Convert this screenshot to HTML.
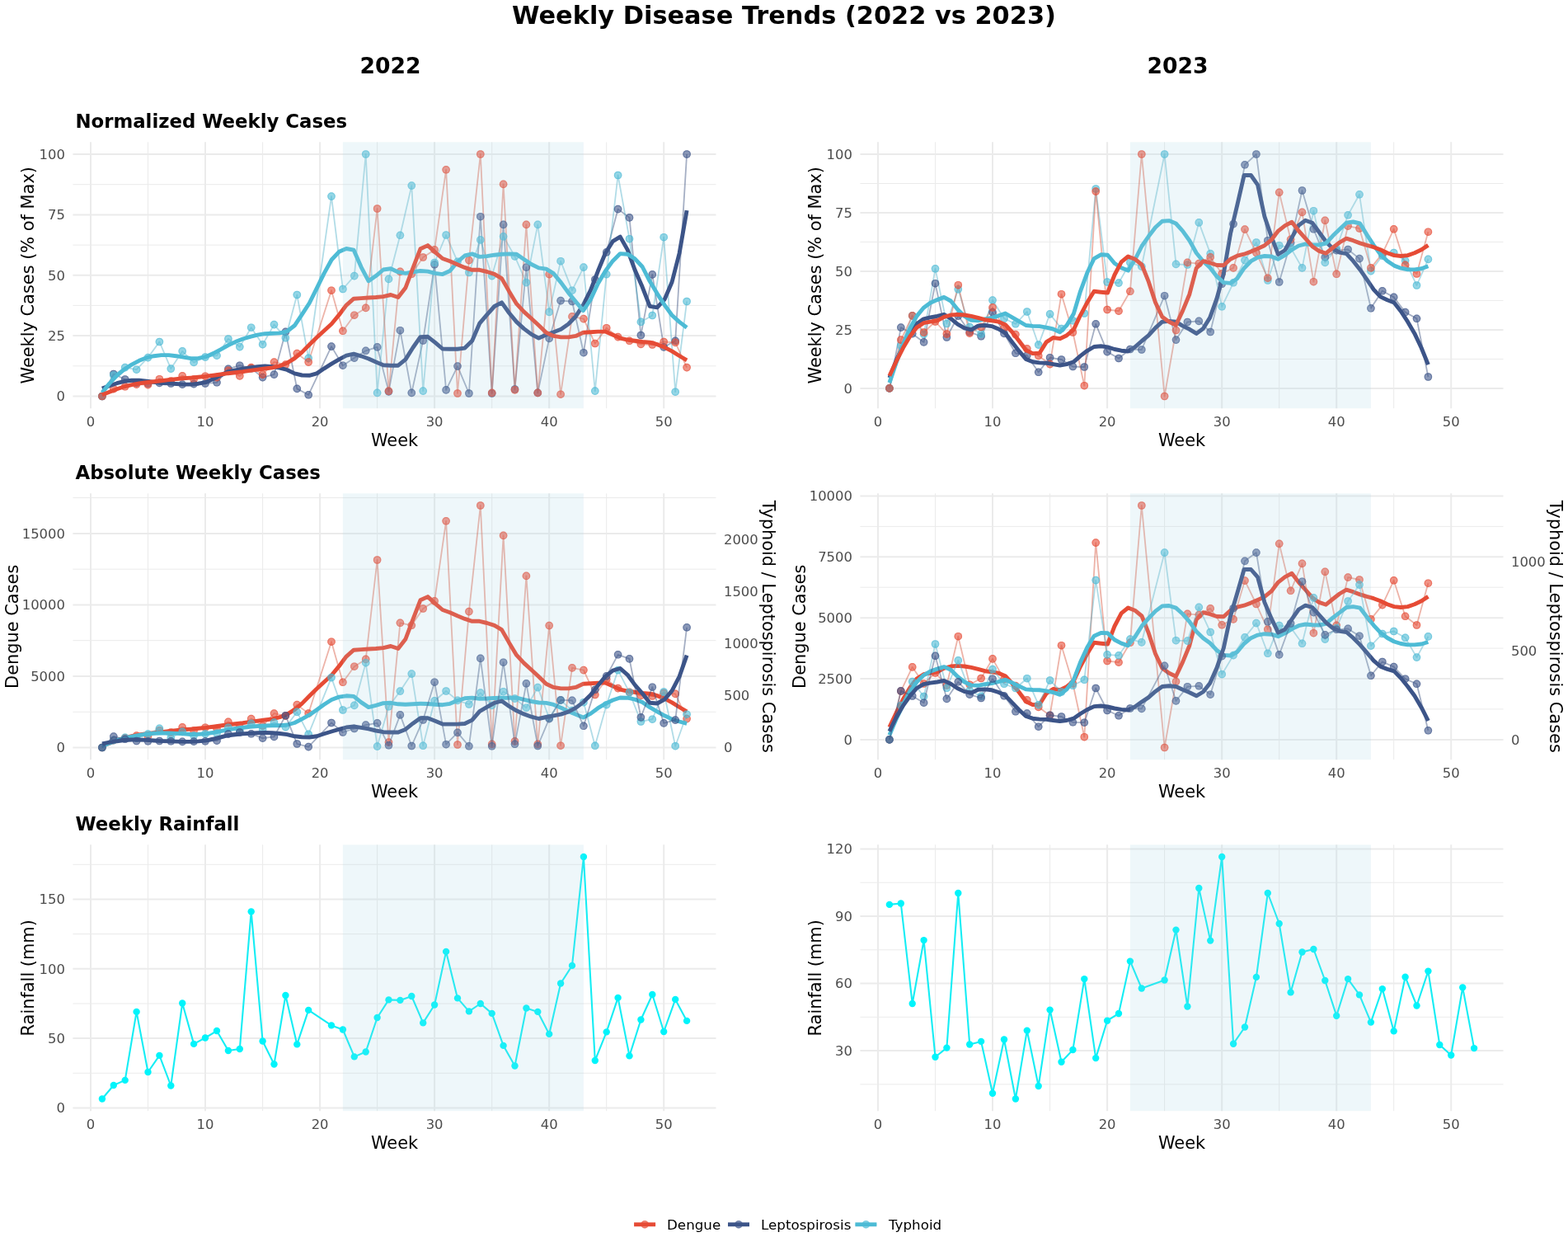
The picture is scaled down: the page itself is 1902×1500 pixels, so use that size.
<!DOCTYPE html>
<html lang="en"><head><meta charset="utf-8"><title>Weekly Disease Trends (2022 vs 2023)</title>
<style>
html,body{margin:0;padding:0;background:#fff;}
body{width:1902px;height:1500px;overflow:hidden;}
svg{display:block;}
text{font-family:"DejaVu Sans","Liberation Sans",sans-serif;fill:#000;}
.tk{font-size:16.4px;fill:#4D4D4D;}
.ax{font-size:20.9px;}
.pt{font-size:22.8px;font-weight:bold;}
.col{font-size:26.6px;font-weight:bold;}
.ttl{font-size:30.4px;font-weight:bold;}
.lg{font-size:16.72px;}
</style></head><body>
<svg width="1902" height="1500" viewBox="0 0 1902 1500">
<rect width="1902" height="1500" fill="#fff"/>
<path d="M88.4 443.8H868.5M88.4 370.4H868.5M88.4 297.1H868.5M88.4 223.7H868.5M179.5 172.3V495.2M318.6 172.3V495.2M457.6 172.3V495.2M596.7 172.3V495.2M735.7 172.3V495.2" stroke="#EBEBEB" stroke-width="1" fill="none"/>
<path d="M88.4 480.5H868.5M88.4 407.1H868.5M88.4 333.8H868.5M88.4 260.4H868.5M88.4 187H868.5M110 172.3V495.2M249 172.3V495.2M388.1 172.3V495.2M527.1 172.3V495.2M666.2 172.3V495.2M805.2 172.3V495.2" stroke="#EBEBEB" stroke-width="2" fill="none"/>
<rect x="415.9" y="172.3" width="292" height="322.9" fill="#ADD8E6" fill-opacity="0.06"/>
<polyline points="123.9,480.5 137.8,453.5 151.7,460 165.6,464.4 179.5,465 193.4,464.4 207.3,465 221.2,466.1 235.1,465.6 249,465 263,463.8 276.9,447.4 290.8,443.2 304.7,446.8 318.6,457.6 332.5,454.1 346.4,402.4 360.3,471.4 374.2,478.8 402,420.1 415.9,443.2 429.8,434.1 443.7,425.3 457.6,420.9 471.5,474.9 485.4,400.7 499.3,476.4 513.2,413 527.1,320.8 541.1,472.9 555,444.1 568.9,477 582.8,262.7 596.7,477 610.6,272.4 624.5,472 638.4,324.1 652.3,476.4 666.2,410.4 680.1,364.6 694,365.5 707.9,427.7 721.8,339 735.7,305.9 749.6,253.6 763.5,263.9 777.4,406.5 791.3,332.9 805.2,420.9 819.2,413.3 833.1,187" fill="none" stroke="#384E7C" stroke-width="1.8" stroke-opacity="0.45" stroke-linejoin="round"/>
<polyline points="123.9,480.5 137.8,455 151.7,445.6 165.6,448.2 179.5,433.6 193.4,414.5 207.3,447.1 221.2,425.9 235.1,439.4 249,433 263,431.2 276.9,411 290.8,420.6 304.7,397.2 318.6,417.7 332.5,393.6 346.4,409.8 360.3,357.5 374.2,434.4 402,238.1 415.9,350.5 429.8,334.6 443.7,187 457.6,476.4 471.5,338.4 485.4,285.3 499.3,225.1 513.2,474.1 527.1,318.5 541.1,285 555,317.3 568.9,330.5 582.8,290.9 596.7,334.6 610.6,286.8 624.5,310.9 638.4,342.6 652.3,272.4 666.2,378.4 680.1,316.7 694,352.2 707.9,324.1 721.8,474.1 735.7,332.6 749.6,212.5 763.5,289.7 777.4,390.4 791.3,382.5 805.2,287.7 819.2,475.2 833.1,365.5" fill="none" stroke="#52B2CA" stroke-width="1.8" stroke-opacity="0.45" stroke-linejoin="round"/>
<polyline points="123.9,480.5 137.8,471.7 151.7,468.8 165.6,466.1 179.5,466.7 193.4,459.7 207.3,462 221.2,455.9 235.1,460 249,456.2 263,457.6 276.9,449.4 290.8,455.9 304.7,445.6 318.6,454.1 332.5,439.1 346.4,442.1 360.3,428.6 374.2,439.1 402,352.2 415.9,401.3 429.8,382.2 443.7,373.4 457.6,253 471.5,474.1 485.4,329.3 499.3,332.3 513.2,312 527.1,302.9 541.1,205.8 555,477 568.9,315.6 582.8,187 596.7,476.4 610.6,223.4 624.5,472.9 638.4,272.4 652.3,476.4 666.2,332.6 680.1,478.2 694,383.9 707.9,386.6 721.8,416.5 735.7,397.7 749.6,408.6 763.5,413.3 777.4,417.4 791.3,418 805.2,414.5 819.2,415.4 833.1,445.6" fill="none" stroke="#D6563F" stroke-width="1.8" stroke-opacity="0.45" stroke-linejoin="round"/>
<g fill="#3C5488" fill-opacity="0.6"><circle cx="123.9" cy="480.5" r="4.8"/><circle cx="137.8" cy="453.5" r="4.8"/><circle cx="151.7" cy="460" r="4.8"/><circle cx="165.6" cy="464.4" r="4.8"/><circle cx="179.5" cy="465" r="4.8"/><circle cx="193.4" cy="464.4" r="4.8"/><circle cx="207.3" cy="465" r="4.8"/><circle cx="221.2" cy="466.1" r="4.8"/><circle cx="235.1" cy="465.6" r="4.8"/><circle cx="249" cy="465" r="4.8"/><circle cx="263" cy="463.8" r="4.8"/><circle cx="276.9" cy="447.4" r="4.8"/><circle cx="290.8" cy="443.2" r="4.8"/><circle cx="304.7" cy="446.8" r="4.8"/><circle cx="318.6" cy="457.6" r="4.8"/><circle cx="332.5" cy="454.1" r="4.8"/><circle cx="346.4" cy="402.4" r="4.8"/><circle cx="360.3" cy="471.4" r="4.8"/><circle cx="374.2" cy="478.8" r="4.8"/><circle cx="402" cy="420.1" r="4.8"/><circle cx="415.9" cy="443.2" r="4.8"/><circle cx="429.8" cy="434.1" r="4.8"/><circle cx="443.7" cy="425.3" r="4.8"/><circle cx="457.6" cy="420.9" r="4.8"/><circle cx="471.5" cy="474.9" r="4.8"/><circle cx="485.4" cy="400.7" r="4.8"/><circle cx="499.3" cy="476.4" r="4.8"/><circle cx="513.2" cy="413" r="4.8"/><circle cx="527.1" cy="320.8" r="4.8"/><circle cx="541.1" cy="472.9" r="4.8"/><circle cx="555" cy="444.1" r="4.8"/><circle cx="568.9" cy="477" r="4.8"/><circle cx="582.8" cy="262.7" r="4.8"/><circle cx="596.7" cy="477" r="4.8"/><circle cx="610.6" cy="272.4" r="4.8"/><circle cx="624.5" cy="472" r="4.8"/><circle cx="638.4" cy="324.1" r="4.8"/><circle cx="652.3" cy="476.4" r="4.8"/><circle cx="666.2" cy="410.4" r="4.8"/><circle cx="680.1" cy="364.6" r="4.8"/><circle cx="694" cy="365.5" r="4.8"/><circle cx="707.9" cy="427.7" r="4.8"/><circle cx="721.8" cy="339" r="4.8"/><circle cx="735.7" cy="305.9" r="4.8"/><circle cx="749.6" cy="253.6" r="4.8"/><circle cx="763.5" cy="263.9" r="4.8"/><circle cx="777.4" cy="406.5" r="4.8"/><circle cx="791.3" cy="332.9" r="4.8"/><circle cx="805.2" cy="420.9" r="4.8"/><circle cx="819.2" cy="413.3" r="4.8"/><circle cx="833.1" cy="187" r="4.8"/></g>
<g fill="none" stroke="#3C5488" stroke-opacity="0.44999999999999996" stroke-width="1.2"><circle cx="123.9" cy="480.5" r="4.2"/><circle cx="137.8" cy="453.5" r="4.2"/><circle cx="151.7" cy="460" r="4.2"/><circle cx="165.6" cy="464.4" r="4.2"/><circle cx="179.5" cy="465" r="4.2"/><circle cx="193.4" cy="464.4" r="4.2"/><circle cx="207.3" cy="465" r="4.2"/><circle cx="221.2" cy="466.1" r="4.2"/><circle cx="235.1" cy="465.6" r="4.2"/><circle cx="249" cy="465" r="4.2"/><circle cx="263" cy="463.8" r="4.2"/><circle cx="276.9" cy="447.4" r="4.2"/><circle cx="290.8" cy="443.2" r="4.2"/><circle cx="304.7" cy="446.8" r="4.2"/><circle cx="318.6" cy="457.6" r="4.2"/><circle cx="332.5" cy="454.1" r="4.2"/><circle cx="346.4" cy="402.4" r="4.2"/><circle cx="360.3" cy="471.4" r="4.2"/><circle cx="374.2" cy="478.8" r="4.2"/><circle cx="402" cy="420.1" r="4.2"/><circle cx="415.9" cy="443.2" r="4.2"/><circle cx="429.8" cy="434.1" r="4.2"/><circle cx="443.7" cy="425.3" r="4.2"/><circle cx="457.6" cy="420.9" r="4.2"/><circle cx="471.5" cy="474.9" r="4.2"/><circle cx="485.4" cy="400.7" r="4.2"/><circle cx="499.3" cy="476.4" r="4.2"/><circle cx="513.2" cy="413" r="4.2"/><circle cx="527.1" cy="320.8" r="4.2"/><circle cx="541.1" cy="472.9" r="4.2"/><circle cx="555" cy="444.1" r="4.2"/><circle cx="568.9" cy="477" r="4.2"/><circle cx="582.8" cy="262.7" r="4.2"/><circle cx="596.7" cy="477" r="4.2"/><circle cx="610.6" cy="272.4" r="4.2"/><circle cx="624.5" cy="472" r="4.2"/><circle cx="638.4" cy="324.1" r="4.2"/><circle cx="652.3" cy="476.4" r="4.2"/><circle cx="666.2" cy="410.4" r="4.2"/><circle cx="680.1" cy="364.6" r="4.2"/><circle cx="694" cy="365.5" r="4.2"/><circle cx="707.9" cy="427.7" r="4.2"/><circle cx="721.8" cy="339" r="4.2"/><circle cx="735.7" cy="305.9" r="4.2"/><circle cx="749.6" cy="253.6" r="4.2"/><circle cx="763.5" cy="263.9" r="4.2"/><circle cx="777.4" cy="406.5" r="4.2"/><circle cx="791.3" cy="332.9" r="4.2"/><circle cx="805.2" cy="420.9" r="4.2"/><circle cx="819.2" cy="413.3" r="4.2"/><circle cx="833.1" cy="187" r="4.2"/></g>
<g fill="#4DBBD5" fill-opacity="0.6"><circle cx="123.9" cy="480.5" r="4.8"/><circle cx="137.8" cy="455" r="4.8"/><circle cx="151.7" cy="445.6" r="4.8"/><circle cx="165.6" cy="448.2" r="4.8"/><circle cx="179.5" cy="433.6" r="4.8"/><circle cx="193.4" cy="414.5" r="4.8"/><circle cx="207.3" cy="447.1" r="4.8"/><circle cx="221.2" cy="425.9" r="4.8"/><circle cx="235.1" cy="439.4" r="4.8"/><circle cx="249" cy="433" r="4.8"/><circle cx="263" cy="431.2" r="4.8"/><circle cx="276.9" cy="411" r="4.8"/><circle cx="290.8" cy="420.6" r="4.8"/><circle cx="304.7" cy="397.2" r="4.8"/><circle cx="318.6" cy="417.7" r="4.8"/><circle cx="332.5" cy="393.6" r="4.8"/><circle cx="346.4" cy="409.8" r="4.8"/><circle cx="360.3" cy="357.5" r="4.8"/><circle cx="374.2" cy="434.4" r="4.8"/><circle cx="402" cy="238.1" r="4.8"/><circle cx="415.9" cy="350.5" r="4.8"/><circle cx="429.8" cy="334.6" r="4.8"/><circle cx="443.7" cy="187" r="4.8"/><circle cx="457.6" cy="476.4" r="4.8"/><circle cx="471.5" cy="338.4" r="4.8"/><circle cx="485.4" cy="285.3" r="4.8"/><circle cx="499.3" cy="225.1" r="4.8"/><circle cx="513.2" cy="474.1" r="4.8"/><circle cx="527.1" cy="318.5" r="4.8"/><circle cx="541.1" cy="285" r="4.8"/><circle cx="555" cy="317.3" r="4.8"/><circle cx="568.9" cy="330.5" r="4.8"/><circle cx="582.8" cy="290.9" r="4.8"/><circle cx="596.7" cy="334.6" r="4.8"/><circle cx="610.6" cy="286.8" r="4.8"/><circle cx="624.5" cy="310.9" r="4.8"/><circle cx="638.4" cy="342.6" r="4.8"/><circle cx="652.3" cy="272.4" r="4.8"/><circle cx="666.2" cy="378.4" r="4.8"/><circle cx="680.1" cy="316.7" r="4.8"/><circle cx="694" cy="352.2" r="4.8"/><circle cx="707.9" cy="324.1" r="4.8"/><circle cx="721.8" cy="474.1" r="4.8"/><circle cx="735.7" cy="332.6" r="4.8"/><circle cx="749.6" cy="212.5" r="4.8"/><circle cx="763.5" cy="289.7" r="4.8"/><circle cx="777.4" cy="390.4" r="4.8"/><circle cx="791.3" cy="382.5" r="4.8"/><circle cx="805.2" cy="287.7" r="4.8"/><circle cx="819.2" cy="475.2" r="4.8"/><circle cx="833.1" cy="365.5" r="4.8"/></g>
<g fill="none" stroke="#4DBBD5" stroke-opacity="0.44999999999999996" stroke-width="1.2"><circle cx="123.9" cy="480.5" r="4.2"/><circle cx="137.8" cy="455" r="4.2"/><circle cx="151.7" cy="445.6" r="4.2"/><circle cx="165.6" cy="448.2" r="4.2"/><circle cx="179.5" cy="433.6" r="4.2"/><circle cx="193.4" cy="414.5" r="4.2"/><circle cx="207.3" cy="447.1" r="4.2"/><circle cx="221.2" cy="425.9" r="4.2"/><circle cx="235.1" cy="439.4" r="4.2"/><circle cx="249" cy="433" r="4.2"/><circle cx="263" cy="431.2" r="4.2"/><circle cx="276.9" cy="411" r="4.2"/><circle cx="290.8" cy="420.6" r="4.2"/><circle cx="304.7" cy="397.2" r="4.2"/><circle cx="318.6" cy="417.7" r="4.2"/><circle cx="332.5" cy="393.6" r="4.2"/><circle cx="346.4" cy="409.8" r="4.2"/><circle cx="360.3" cy="357.5" r="4.2"/><circle cx="374.2" cy="434.4" r="4.2"/><circle cx="402" cy="238.1" r="4.2"/><circle cx="415.9" cy="350.5" r="4.2"/><circle cx="429.8" cy="334.6" r="4.2"/><circle cx="443.7" cy="187" r="4.2"/><circle cx="457.6" cy="476.4" r="4.2"/><circle cx="471.5" cy="338.4" r="4.2"/><circle cx="485.4" cy="285.3" r="4.2"/><circle cx="499.3" cy="225.1" r="4.2"/><circle cx="513.2" cy="474.1" r="4.2"/><circle cx="527.1" cy="318.5" r="4.2"/><circle cx="541.1" cy="285" r="4.2"/><circle cx="555" cy="317.3" r="4.2"/><circle cx="568.9" cy="330.5" r="4.2"/><circle cx="582.8" cy="290.9" r="4.2"/><circle cx="596.7" cy="334.6" r="4.2"/><circle cx="610.6" cy="286.8" r="4.2"/><circle cx="624.5" cy="310.9" r="4.2"/><circle cx="638.4" cy="342.6" r="4.2"/><circle cx="652.3" cy="272.4" r="4.2"/><circle cx="666.2" cy="378.4" r="4.2"/><circle cx="680.1" cy="316.7" r="4.2"/><circle cx="694" cy="352.2" r="4.2"/><circle cx="707.9" cy="324.1" r="4.2"/><circle cx="721.8" cy="474.1" r="4.2"/><circle cx="735.7" cy="332.6" r="4.2"/><circle cx="749.6" cy="212.5" r="4.2"/><circle cx="763.5" cy="289.7" r="4.2"/><circle cx="777.4" cy="390.4" r="4.2"/><circle cx="791.3" cy="382.5" r="4.2"/><circle cx="805.2" cy="287.7" r="4.2"/><circle cx="819.2" cy="475.2" r="4.2"/><circle cx="833.1" cy="365.5" r="4.2"/></g>
<g fill="#E64B35" fill-opacity="0.6"><circle cx="123.9" cy="480.5" r="4.8"/><circle cx="137.8" cy="471.7" r="4.8"/><circle cx="151.7" cy="468.8" r="4.8"/><circle cx="165.6" cy="466.1" r="4.8"/><circle cx="179.5" cy="466.7" r="4.8"/><circle cx="193.4" cy="459.7" r="4.8"/><circle cx="207.3" cy="462" r="4.8"/><circle cx="221.2" cy="455.9" r="4.8"/><circle cx="235.1" cy="460" r="4.8"/><circle cx="249" cy="456.2" r="4.8"/><circle cx="263" cy="457.6" r="4.8"/><circle cx="276.9" cy="449.4" r="4.8"/><circle cx="290.8" cy="455.9" r="4.8"/><circle cx="304.7" cy="445.6" r="4.8"/><circle cx="318.6" cy="454.1" r="4.8"/><circle cx="332.5" cy="439.1" r="4.8"/><circle cx="346.4" cy="442.1" r="4.8"/><circle cx="360.3" cy="428.6" r="4.8"/><circle cx="374.2" cy="439.1" r="4.8"/><circle cx="402" cy="352.2" r="4.8"/><circle cx="415.9" cy="401.3" r="4.8"/><circle cx="429.8" cy="382.2" r="4.8"/><circle cx="443.7" cy="373.4" r="4.8"/><circle cx="457.6" cy="253" r="4.8"/><circle cx="471.5" cy="474.1" r="4.8"/><circle cx="485.4" cy="329.3" r="4.8"/><circle cx="499.3" cy="332.3" r="4.8"/><circle cx="513.2" cy="312" r="4.8"/><circle cx="527.1" cy="302.9" r="4.8"/><circle cx="541.1" cy="205.8" r="4.8"/><circle cx="555" cy="477" r="4.8"/><circle cx="568.9" cy="315.6" r="4.8"/><circle cx="582.8" cy="187" r="4.8"/><circle cx="596.7" cy="476.4" r="4.8"/><circle cx="610.6" cy="223.4" r="4.8"/><circle cx="624.5" cy="472.9" r="4.8"/><circle cx="638.4" cy="272.4" r="4.8"/><circle cx="652.3" cy="476.4" r="4.8"/><circle cx="666.2" cy="332.6" r="4.8"/><circle cx="680.1" cy="478.2" r="4.8"/><circle cx="694" cy="383.9" r="4.8"/><circle cx="707.9" cy="386.6" r="4.8"/><circle cx="721.8" cy="416.5" r="4.8"/><circle cx="735.7" cy="397.7" r="4.8"/><circle cx="749.6" cy="408.6" r="4.8"/><circle cx="763.5" cy="413.3" r="4.8"/><circle cx="777.4" cy="417.4" r="4.8"/><circle cx="791.3" cy="418" r="4.8"/><circle cx="805.2" cy="414.5" r="4.8"/><circle cx="819.2" cy="415.4" r="4.8"/><circle cx="833.1" cy="445.6" r="4.8"/></g>
<g fill="none" stroke="#E64B35" stroke-opacity="0.44999999999999996" stroke-width="1.2"><circle cx="123.9" cy="480.5" r="4.2"/><circle cx="137.8" cy="471.7" r="4.2"/><circle cx="151.7" cy="468.8" r="4.2"/><circle cx="165.6" cy="466.1" r="4.2"/><circle cx="179.5" cy="466.7" r="4.2"/><circle cx="193.4" cy="459.7" r="4.2"/><circle cx="207.3" cy="462" r="4.2"/><circle cx="221.2" cy="455.9" r="4.2"/><circle cx="235.1" cy="460" r="4.2"/><circle cx="249" cy="456.2" r="4.2"/><circle cx="263" cy="457.6" r="4.2"/><circle cx="276.9" cy="449.4" r="4.2"/><circle cx="290.8" cy="455.9" r="4.2"/><circle cx="304.7" cy="445.6" r="4.2"/><circle cx="318.6" cy="454.1" r="4.2"/><circle cx="332.5" cy="439.1" r="4.2"/><circle cx="346.4" cy="442.1" r="4.2"/><circle cx="360.3" cy="428.6" r="4.2"/><circle cx="374.2" cy="439.1" r="4.2"/><circle cx="402" cy="352.2" r="4.2"/><circle cx="415.9" cy="401.3" r="4.2"/><circle cx="429.8" cy="382.2" r="4.2"/><circle cx="443.7" cy="373.4" r="4.2"/><circle cx="457.6" cy="253" r="4.2"/><circle cx="471.5" cy="474.1" r="4.2"/><circle cx="485.4" cy="329.3" r="4.2"/><circle cx="499.3" cy="332.3" r="4.2"/><circle cx="513.2" cy="312" r="4.2"/><circle cx="527.1" cy="302.9" r="4.2"/><circle cx="541.1" cy="205.8" r="4.2"/><circle cx="555" cy="477" r="4.2"/><circle cx="568.9" cy="315.6" r="4.2"/><circle cx="582.8" cy="187" r="4.2"/><circle cx="596.7" cy="476.4" r="4.2"/><circle cx="610.6" cy="223.4" r="4.2"/><circle cx="624.5" cy="472.9" r="4.2"/><circle cx="638.4" cy="272.4" r="4.2"/><circle cx="652.3" cy="476.4" r="4.2"/><circle cx="666.2" cy="332.6" r="4.2"/><circle cx="680.1" cy="478.2" r="4.2"/><circle cx="694" cy="383.9" r="4.2"/><circle cx="707.9" cy="386.6" r="4.2"/><circle cx="721.8" cy="416.5" r="4.2"/><circle cx="735.7" cy="397.7" r="4.2"/><circle cx="749.6" cy="408.6" r="4.2"/><circle cx="763.5" cy="413.3" r="4.2"/><circle cx="777.4" cy="417.4" r="4.2"/><circle cx="791.3" cy="418" r="4.2"/><circle cx="805.2" cy="414.5" r="4.2"/><circle cx="819.2" cy="415.4" r="4.2"/><circle cx="833.1" cy="445.6" r="4.2"/></g>
<polyline points="123.9,471.1 132.9,467.7 141.9,464.7 150.8,462.3 159.8,461.3 168.8,461.2 177.8,462.1 186.7,463.4 195.7,464.5 204.7,464.9 213.7,465.5 222.6,466.1 231.6,466.1 240.6,465.2 249.6,463.6 258.6,459.6 267.5,455.3 276.5,450.8 285.5,448.8 294.5,447.1 303.4,445.8 312.4,444.6 321.4,444 330.4,444.6 339.3,446.2 348.3,448.5 357.3,452.9 366.3,455 375.3,455.3 384.2,452.9 393.2,446.8 402.2,441.2 411.2,435.9 420.1,431.2 429.1,429.2 438.1,431.8 447.1,435 456,439.1 465,442.7 474,443.2 483,443.2 491.9,435.9 500.9,421.5 509.9,408.6 518.9,408.3 527.9,415.4 536.8,423 545.8,423.3 554.8,423.3 563.8,422.1 572.7,413.3 581.7,392.2 590.7,381.6 599.7,371.5 608.6,366.8 617.6,379.5 626.6,390.4 635.6,398.6 644.6,405.4 653.5,410.1 662.5,406 671.5,402.7 680.5,399.2 689.4,393 698.4,383.7 707.4,369.9 716.4,351.9 725.3,328.8 734.3,307 743.3,292.7 752.3,287.1 761.2,302.9 770.2,327.6 779.2,348.1 788.2,371.3 797.2,372.8 806.1,363.1 815.1,342 824.1,307 833.1,255.1" fill="none" stroke="#3C5488" stroke-width="4.9" stroke-opacity="1.0" stroke-linejoin="round" stroke-linecap="butt"/>
<polyline points="123.9,476.1 132.9,464.9 141.9,455.4 150.8,447.8 159.8,442.1 168.8,437.3 177.8,433.7 186.7,431.7 195.7,430.6 204.7,430.6 213.7,431.7 222.6,433.2 231.6,434.7 240.6,434.4 249.6,432.7 258.6,428.6 267.5,423.9 276.5,418.8 285.5,414.6 294.5,411 303.4,408.4 312.4,406.2 321.4,404.7 330.4,404.3 339.3,403.9 348.3,401.8 357.3,394.8 366.3,381.3 375.3,367.5 384.2,349.6 393.2,331.4 402.2,315 411.2,305.3 420.1,301.5 429.1,303.2 438.1,323.8 447.1,340.8 456,334.6 465,327 474,325.8 483,329.9 491.9,331.4 500.9,329.9 509.9,328.5 518.9,329.1 527.9,331.4 536.8,332.6 545.8,328.5 554.8,317.6 563.8,310 572.7,307.9 581.7,311.4 590.7,310.6 599.7,309.2 608.6,308.2 617.6,307.9 626.6,308.2 635.6,314.4 644.6,320.5 653.5,324.9 662.5,326.1 671.5,331.7 680.5,342.6 689.4,354.9 698.4,365.7 707.4,376.6 716.4,363.1 725.3,344 734.3,328.8 743.3,316.4 752.3,307.6 761.2,308.2 770.2,313.8 779.2,323.5 788.2,341.1 797.2,356.1 806.1,369.9 815.1,382.2 824.1,390.4 833.1,397.2" fill="none" stroke="#4DBBD5" stroke-width="4.9" stroke-opacity="1.0" stroke-linejoin="round" stroke-linecap="butt"/>
<polyline points="123.9,478.8 132.9,475.2 141.9,471.8 150.8,468.8 159.8,466.6 168.8,464.9 177.8,463.7 186.7,462.7 195.7,461.7 204.7,460.6 213.7,459.6 222.6,458.7 231.6,458.1 240.6,457.3 249.6,456.4 258.6,455.2 267.5,454 276.5,452.7 285.5,451.7 294.5,450.6 303.4,449.3 312.4,448.1 321.4,447 330.4,445.9 339.3,443.7 348.3,440.2 357.3,434.7 366.3,427.1 375.3,418 384.2,409.2 393.2,401 402.2,392.8 411.2,381.9 420.1,370.1 429.1,362.2 438.1,361.6 447.1,361 456,360.5 465,359.6 474,357.5 483,360.5 491.9,349 500.9,325.2 509.9,301.8 518.9,297.6 527.9,305.9 536.8,313.5 545.8,316.7 554.8,320.8 563.8,324.4 572.7,327.3 581.7,327.3 590.7,329.5 599.7,332.3 608.6,337.6 617.6,353.4 626.6,368.4 635.6,378.1 644.6,386.3 653.5,394.5 662.5,403.3 671.5,407.4 680.5,408.9 689.4,408.9 698.4,407.4 707.4,403.3 716.4,402.7 725.3,402.1 734.3,402.1 743.3,406 752.3,410.1 761.2,412.1 770.2,413.3 779.2,414.5 788.2,415.1 797.2,417.7 806.1,421.2 815.1,425.9 824.1,431.5 833.1,436.8" fill="none" stroke="#E64B35" stroke-width="4.9" stroke-opacity="1.0" stroke-linejoin="round" stroke-linecap="butt"/>
<rect x="415.9" y="172.3" width="292" height="322.9" fill="#ADD8E6" fill-opacity="0.15"/>
<text class="tk" text-anchor="end" x="78.9" y="486.4">0</text>
<text class="tk" text-anchor="end" x="78.9" y="413">25</text>
<text class="tk" text-anchor="end" x="78.9" y="339.6">50</text>
<text class="tk" text-anchor="end" x="78.9" y="266.3">75</text>
<text class="tk" text-anchor="end" x="78.9" y="192.9">100</text>
<text class="tk" text-anchor="middle" x="110" y="517.2">0</text>
<text class="tk" text-anchor="middle" x="249" y="517.2">10</text>
<text class="tk" text-anchor="middle" x="388.1" y="517.2">20</text>
<text class="tk" text-anchor="middle" x="527.1" y="517.2">30</text>
<text class="tk" text-anchor="middle" x="666.2" y="517.2">40</text>
<text class="tk" text-anchor="middle" x="805.2" y="517.2">50</text>
<text class="ax" text-anchor="middle" x="478.5" y="541.2">Week</text>
<text class="ax" text-anchor="middle" transform="translate(40.6,333.8) rotate(-90)">Weekly Cases (% of Max)</text>
<path d="M1043.4 435.4H1823.5M1043.4 364.4H1823.5M1043.4 293.4H1823.5M1043.4 222.5H1823.5M1134.5 172.3V495.2M1273.6 172.3V495.2M1412.6 172.3V495.2M1551.7 172.3V495.2M1690.7 172.3V495.2" stroke="#EBEBEB" stroke-width="1" fill="none"/>
<path d="M1043.4 470.9H1823.5M1043.4 399.9H1823.5M1043.4 328.9H1823.5M1043.4 258H1823.5M1043.4 187H1823.5M1065 172.3V495.2M1204 172.3V495.2M1343.1 172.3V495.2M1482.2 172.3V495.2M1621.2 172.3V495.2M1760.2 172.3V495.2" stroke="#EBEBEB" stroke-width="2" fill="none"/>
<rect x="1370.9" y="172.3" width="292" height="322.9" fill="#ADD8E6" fill-opacity="0.06"/>
<polyline points="1078.9,470.9 1092.8,397.1 1106.7,404.7 1120.6,414.9 1134.5,343.7 1148.4,409 1162.3,383.1 1176.2,402.5 1190.1,407.8 1204,378.6 1218,404.4 1231.9,428.3 1245.8,431.1 1259.7,451.3 1273.6,433.7 1287.5,436 1301.4,444.5 1315.3,445 1329.2,392.8 1343.1,426.6 1357,434.5 1370.9,423.5 1384.8,424 1412.6,358.7 1426.5,412.1 1440.4,390.5 1454.3,389.4 1468.2,402.5 1482.2,344.3 1496.1,271.6 1510,199.8 1523.9,187 1537.8,291.7 1551.7,342 1565.6,294.6 1579.5,231 1593.4,277.8 1607.3,311.9 1621.2,303.7 1635.1,302.5 1649,313.6 1662.9,373.8 1676.8,352.8 1690.7,360.4 1704.6,378.6 1718.5,386.3 1732.4,457" fill="none" stroke="#384E7C" stroke-width="1.8" stroke-opacity="0.45" stroke-linejoin="round"/>
<polyline points="1078.9,470.9 1092.8,419.2 1106.7,382.9 1120.6,405.3 1134.5,325.8 1148.4,392.5 1162.3,350.8 1176.2,396.5 1190.1,405 1204,364.1 1218,386.3 1231.9,392.8 1245.8,378 1259.7,418.1 1273.6,380.9 1287.5,398.5 1301.4,388.8 1315.3,380 1329.2,229 1343.1,342 1357,343.1 1370.9,318.4 1384.8,323.2 1412.6,187 1426.5,320.4 1440.4,321 1454.3,269.9 1468.2,307.6 1482.2,371.8 1496.1,342.8 1510,315.6 1523.9,294 1537.8,340 1551.7,297.7 1565.6,300.5 1579.5,324.9 1593.4,255.7 1607.3,318.4 1621.2,301.4 1635.1,260.8 1649,235.8 1662.9,328.6 1676.8,310.2 1690.7,306.5 1704.6,316.1 1718.5,346 1732.4,314.4" fill="none" stroke="#52B2CA" stroke-width="1.8" stroke-opacity="0.45" stroke-linejoin="round"/>
<polyline points="1078.9,470.9 1092.8,412.1 1106.7,382.9 1120.6,403 1134.5,390 1148.4,405 1162.3,345.7 1176.2,404.2 1190.1,396.5 1204,372.9 1218,397.6 1231.9,405.6 1245.8,422.9 1259.7,431.4 1273.6,441.6 1287.5,356.7 1301.4,403 1315.3,467.7 1329.2,232.1 1343.1,375.5 1357,377.2 1370.9,353.3 1384.8,187 1412.6,480.5 1426.5,400.5 1440.4,318.4 1454.3,319.6 1468.2,311.9 1482.2,331.8 1496.1,324.9 1510,278.1 1523.9,306.5 1537.8,337.2 1551.7,233.3 1565.6,290.3 1579.5,257.4 1593.4,341.7 1607.3,267.3 1621.2,332.3 1635.1,274.1 1649,277 1662.9,324.9 1676.8,307.6 1690.7,277.8 1704.6,321.3 1718.5,332 1732.4,281.2" fill="none" stroke="#D6563F" stroke-width="1.8" stroke-opacity="0.45" stroke-linejoin="round"/>
<g fill="#3C5488" fill-opacity="0.6"><circle cx="1078.9" cy="470.9" r="4.8"/><circle cx="1092.8" cy="397.1" r="4.8"/><circle cx="1106.7" cy="404.7" r="4.8"/><circle cx="1120.6" cy="414.9" r="4.8"/><circle cx="1134.5" cy="343.7" r="4.8"/><circle cx="1148.4" cy="409" r="4.8"/><circle cx="1162.3" cy="383.1" r="4.8"/><circle cx="1176.2" cy="402.5" r="4.8"/><circle cx="1190.1" cy="407.8" r="4.8"/><circle cx="1204" cy="378.6" r="4.8"/><circle cx="1218" cy="404.4" r="4.8"/><circle cx="1231.9" cy="428.3" r="4.8"/><circle cx="1245.8" cy="431.1" r="4.8"/><circle cx="1259.7" cy="451.3" r="4.8"/><circle cx="1273.6" cy="433.7" r="4.8"/><circle cx="1287.5" cy="436" r="4.8"/><circle cx="1301.4" cy="444.5" r="4.8"/><circle cx="1315.3" cy="445" r="4.8"/><circle cx="1329.2" cy="392.8" r="4.8"/><circle cx="1343.1" cy="426.6" r="4.8"/><circle cx="1357" cy="434.5" r="4.8"/><circle cx="1370.9" cy="423.5" r="4.8"/><circle cx="1384.8" cy="424" r="4.8"/><circle cx="1412.6" cy="358.7" r="4.8"/><circle cx="1426.5" cy="412.1" r="4.8"/><circle cx="1440.4" cy="390.5" r="4.8"/><circle cx="1454.3" cy="389.4" r="4.8"/><circle cx="1468.2" cy="402.5" r="4.8"/><circle cx="1482.2" cy="344.3" r="4.8"/><circle cx="1496.1" cy="271.6" r="4.8"/><circle cx="1510" cy="199.8" r="4.8"/><circle cx="1523.9" cy="187" r="4.8"/><circle cx="1537.8" cy="291.7" r="4.8"/><circle cx="1551.7" cy="342" r="4.8"/><circle cx="1565.6" cy="294.6" r="4.8"/><circle cx="1579.5" cy="231" r="4.8"/><circle cx="1593.4" cy="277.8" r="4.8"/><circle cx="1607.3" cy="311.9" r="4.8"/><circle cx="1621.2" cy="303.7" r="4.8"/><circle cx="1635.1" cy="302.5" r="4.8"/><circle cx="1649" cy="313.6" r="4.8"/><circle cx="1662.9" cy="373.8" r="4.8"/><circle cx="1676.8" cy="352.8" r="4.8"/><circle cx="1690.7" cy="360.4" r="4.8"/><circle cx="1704.6" cy="378.6" r="4.8"/><circle cx="1718.5" cy="386.3" r="4.8"/><circle cx="1732.4" cy="457" r="4.8"/></g>
<g fill="none" stroke="#3C5488" stroke-opacity="0.44999999999999996" stroke-width="1.2"><circle cx="1078.9" cy="470.9" r="4.2"/><circle cx="1092.8" cy="397.1" r="4.2"/><circle cx="1106.7" cy="404.7" r="4.2"/><circle cx="1120.6" cy="414.9" r="4.2"/><circle cx="1134.5" cy="343.7" r="4.2"/><circle cx="1148.4" cy="409" r="4.2"/><circle cx="1162.3" cy="383.1" r="4.2"/><circle cx="1176.2" cy="402.5" r="4.2"/><circle cx="1190.1" cy="407.8" r="4.2"/><circle cx="1204" cy="378.6" r="4.2"/><circle cx="1218" cy="404.4" r="4.2"/><circle cx="1231.9" cy="428.3" r="4.2"/><circle cx="1245.8" cy="431.1" r="4.2"/><circle cx="1259.7" cy="451.3" r="4.2"/><circle cx="1273.6" cy="433.7" r="4.2"/><circle cx="1287.5" cy="436" r="4.2"/><circle cx="1301.4" cy="444.5" r="4.2"/><circle cx="1315.3" cy="445" r="4.2"/><circle cx="1329.2" cy="392.8" r="4.2"/><circle cx="1343.1" cy="426.6" r="4.2"/><circle cx="1357" cy="434.5" r="4.2"/><circle cx="1370.9" cy="423.5" r="4.2"/><circle cx="1384.8" cy="424" r="4.2"/><circle cx="1412.6" cy="358.7" r="4.2"/><circle cx="1426.5" cy="412.1" r="4.2"/><circle cx="1440.4" cy="390.5" r="4.2"/><circle cx="1454.3" cy="389.4" r="4.2"/><circle cx="1468.2" cy="402.5" r="4.2"/><circle cx="1482.2" cy="344.3" r="4.2"/><circle cx="1496.1" cy="271.6" r="4.2"/><circle cx="1510" cy="199.8" r="4.2"/><circle cx="1523.9" cy="187" r="4.2"/><circle cx="1537.8" cy="291.7" r="4.2"/><circle cx="1551.7" cy="342" r="4.2"/><circle cx="1565.6" cy="294.6" r="4.2"/><circle cx="1579.5" cy="231" r="4.2"/><circle cx="1593.4" cy="277.8" r="4.2"/><circle cx="1607.3" cy="311.9" r="4.2"/><circle cx="1621.2" cy="303.7" r="4.2"/><circle cx="1635.1" cy="302.5" r="4.2"/><circle cx="1649" cy="313.6" r="4.2"/><circle cx="1662.9" cy="373.8" r="4.2"/><circle cx="1676.8" cy="352.8" r="4.2"/><circle cx="1690.7" cy="360.4" r="4.2"/><circle cx="1704.6" cy="378.6" r="4.2"/><circle cx="1718.5" cy="386.3" r="4.2"/><circle cx="1732.4" cy="457" r="4.2"/></g>
<g fill="#4DBBD5" fill-opacity="0.6"><circle cx="1078.9" cy="470.9" r="4.8"/><circle cx="1092.8" cy="419.2" r="4.8"/><circle cx="1106.7" cy="382.9" r="4.8"/><circle cx="1120.6" cy="405.3" r="4.8"/><circle cx="1134.5" cy="325.8" r="4.8"/><circle cx="1148.4" cy="392.5" r="4.8"/><circle cx="1162.3" cy="350.8" r="4.8"/><circle cx="1176.2" cy="396.5" r="4.8"/><circle cx="1190.1" cy="405" r="4.8"/><circle cx="1204" cy="364.1" r="4.8"/><circle cx="1218" cy="386.3" r="4.8"/><circle cx="1231.9" cy="392.8" r="4.8"/><circle cx="1245.8" cy="378" r="4.8"/><circle cx="1259.7" cy="418.1" r="4.8"/><circle cx="1273.6" cy="380.9" r="4.8"/><circle cx="1287.5" cy="398.5" r="4.8"/><circle cx="1301.4" cy="388.8" r="4.8"/><circle cx="1315.3" cy="380" r="4.8"/><circle cx="1329.2" cy="229" r="4.8"/><circle cx="1343.1" cy="342" r="4.8"/><circle cx="1357" cy="343.1" r="4.8"/><circle cx="1370.9" cy="318.4" r="4.8"/><circle cx="1384.8" cy="323.2" r="4.8"/><circle cx="1412.6" cy="187" r="4.8"/><circle cx="1426.5" cy="320.4" r="4.8"/><circle cx="1440.4" cy="321" r="4.8"/><circle cx="1454.3" cy="269.9" r="4.8"/><circle cx="1468.2" cy="307.6" r="4.8"/><circle cx="1482.2" cy="371.8" r="4.8"/><circle cx="1496.1" cy="342.8" r="4.8"/><circle cx="1510" cy="315.6" r="4.8"/><circle cx="1523.9" cy="294" r="4.8"/><circle cx="1537.8" cy="340" r="4.8"/><circle cx="1551.7" cy="297.7" r="4.8"/><circle cx="1565.6" cy="300.5" r="4.8"/><circle cx="1579.5" cy="324.9" r="4.8"/><circle cx="1593.4" cy="255.7" r="4.8"/><circle cx="1607.3" cy="318.4" r="4.8"/><circle cx="1621.2" cy="301.4" r="4.8"/><circle cx="1635.1" cy="260.8" r="4.8"/><circle cx="1649" cy="235.8" r="4.8"/><circle cx="1662.9" cy="328.6" r="4.8"/><circle cx="1676.8" cy="310.2" r="4.8"/><circle cx="1690.7" cy="306.5" r="4.8"/><circle cx="1704.6" cy="316.1" r="4.8"/><circle cx="1718.5" cy="346" r="4.8"/><circle cx="1732.4" cy="314.4" r="4.8"/></g>
<g fill="none" stroke="#4DBBD5" stroke-opacity="0.44999999999999996" stroke-width="1.2"><circle cx="1078.9" cy="470.9" r="4.2"/><circle cx="1092.8" cy="419.2" r="4.2"/><circle cx="1106.7" cy="382.9" r="4.2"/><circle cx="1120.6" cy="405.3" r="4.2"/><circle cx="1134.5" cy="325.8" r="4.2"/><circle cx="1148.4" cy="392.5" r="4.2"/><circle cx="1162.3" cy="350.8" r="4.2"/><circle cx="1176.2" cy="396.5" r="4.2"/><circle cx="1190.1" cy="405" r="4.2"/><circle cx="1204" cy="364.1" r="4.2"/><circle cx="1218" cy="386.3" r="4.2"/><circle cx="1231.9" cy="392.8" r="4.2"/><circle cx="1245.8" cy="378" r="4.2"/><circle cx="1259.7" cy="418.1" r="4.2"/><circle cx="1273.6" cy="380.9" r="4.2"/><circle cx="1287.5" cy="398.5" r="4.2"/><circle cx="1301.4" cy="388.8" r="4.2"/><circle cx="1315.3" cy="380" r="4.2"/><circle cx="1329.2" cy="229" r="4.2"/><circle cx="1343.1" cy="342" r="4.2"/><circle cx="1357" cy="343.1" r="4.2"/><circle cx="1370.9" cy="318.4" r="4.2"/><circle cx="1384.8" cy="323.2" r="4.2"/><circle cx="1412.6" cy="187" r="4.2"/><circle cx="1426.5" cy="320.4" r="4.2"/><circle cx="1440.4" cy="321" r="4.2"/><circle cx="1454.3" cy="269.9" r="4.2"/><circle cx="1468.2" cy="307.6" r="4.2"/><circle cx="1482.2" cy="371.8" r="4.2"/><circle cx="1496.1" cy="342.8" r="4.2"/><circle cx="1510" cy="315.6" r="4.2"/><circle cx="1523.9" cy="294" r="4.2"/><circle cx="1537.8" cy="340" r="4.2"/><circle cx="1551.7" cy="297.7" r="4.2"/><circle cx="1565.6" cy="300.5" r="4.2"/><circle cx="1579.5" cy="324.9" r="4.2"/><circle cx="1593.4" cy="255.7" r="4.2"/><circle cx="1607.3" cy="318.4" r="4.2"/><circle cx="1621.2" cy="301.4" r="4.2"/><circle cx="1635.1" cy="260.8" r="4.2"/><circle cx="1649" cy="235.8" r="4.2"/><circle cx="1662.9" cy="328.6" r="4.2"/><circle cx="1676.8" cy="310.2" r="4.2"/><circle cx="1690.7" cy="306.5" r="4.2"/><circle cx="1704.6" cy="316.1" r="4.2"/><circle cx="1718.5" cy="346" r="4.2"/><circle cx="1732.4" cy="314.4" r="4.2"/></g>
<g fill="#E64B35" fill-opacity="0.6"><circle cx="1078.9" cy="470.9" r="4.8"/><circle cx="1092.8" cy="412.1" r="4.8"/><circle cx="1106.7" cy="382.9" r="4.8"/><circle cx="1120.6" cy="403" r="4.8"/><circle cx="1134.5" cy="390" r="4.8"/><circle cx="1148.4" cy="405" r="4.8"/><circle cx="1162.3" cy="345.7" r="4.8"/><circle cx="1176.2" cy="404.2" r="4.8"/><circle cx="1190.1" cy="396.5" r="4.8"/><circle cx="1204" cy="372.9" r="4.8"/><circle cx="1218" cy="397.6" r="4.8"/><circle cx="1231.9" cy="405.6" r="4.8"/><circle cx="1245.8" cy="422.9" r="4.8"/><circle cx="1259.7" cy="431.4" r="4.8"/><circle cx="1273.6" cy="441.6" r="4.8"/><circle cx="1287.5" cy="356.7" r="4.8"/><circle cx="1301.4" cy="403" r="4.8"/><circle cx="1315.3" cy="467.7" r="4.8"/><circle cx="1329.2" cy="232.1" r="4.8"/><circle cx="1343.1" cy="375.5" r="4.8"/><circle cx="1357" cy="377.2" r="4.8"/><circle cx="1370.9" cy="353.3" r="4.8"/><circle cx="1384.8" cy="187" r="4.8"/><circle cx="1412.6" cy="480.5" r="4.8"/><circle cx="1426.5" cy="400.5" r="4.8"/><circle cx="1440.4" cy="318.4" r="4.8"/><circle cx="1454.3" cy="319.6" r="4.8"/><circle cx="1468.2" cy="311.9" r="4.8"/><circle cx="1482.2" cy="331.8" r="4.8"/><circle cx="1496.1" cy="324.9" r="4.8"/><circle cx="1510" cy="278.1" r="4.8"/><circle cx="1523.9" cy="306.5" r="4.8"/><circle cx="1537.8" cy="337.2" r="4.8"/><circle cx="1551.7" cy="233.3" r="4.8"/><circle cx="1565.6" cy="290.3" r="4.8"/><circle cx="1579.5" cy="257.4" r="4.8"/><circle cx="1593.4" cy="341.7" r="4.8"/><circle cx="1607.3" cy="267.3" r="4.8"/><circle cx="1621.2" cy="332.3" r="4.8"/><circle cx="1635.1" cy="274.1" r="4.8"/><circle cx="1649" cy="277" r="4.8"/><circle cx="1662.9" cy="324.9" r="4.8"/><circle cx="1676.8" cy="307.6" r="4.8"/><circle cx="1690.7" cy="277.8" r="4.8"/><circle cx="1704.6" cy="321.3" r="4.8"/><circle cx="1718.5" cy="332" r="4.8"/><circle cx="1732.4" cy="281.2" r="4.8"/></g>
<g fill="none" stroke="#E64B35" stroke-opacity="0.44999999999999996" stroke-width="1.2"><circle cx="1078.9" cy="470.9" r="4.2"/><circle cx="1092.8" cy="412.1" r="4.2"/><circle cx="1106.7" cy="382.9" r="4.2"/><circle cx="1120.6" cy="403" r="4.2"/><circle cx="1134.5" cy="390" r="4.2"/><circle cx="1148.4" cy="405" r="4.2"/><circle cx="1162.3" cy="345.7" r="4.2"/><circle cx="1176.2" cy="404.2" r="4.2"/><circle cx="1190.1" cy="396.5" r="4.2"/><circle cx="1204" cy="372.9" r="4.2"/><circle cx="1218" cy="397.6" r="4.2"/><circle cx="1231.9" cy="405.6" r="4.2"/><circle cx="1245.8" cy="422.9" r="4.2"/><circle cx="1259.7" cy="431.4" r="4.2"/><circle cx="1273.6" cy="441.6" r="4.2"/><circle cx="1287.5" cy="356.7" r="4.2"/><circle cx="1301.4" cy="403" r="4.2"/><circle cx="1315.3" cy="467.7" r="4.2"/><circle cx="1329.2" cy="232.1" r="4.2"/><circle cx="1343.1" cy="375.5" r="4.2"/><circle cx="1357" cy="377.2" r="4.2"/><circle cx="1370.9" cy="353.3" r="4.2"/><circle cx="1384.8" cy="187" r="4.2"/><circle cx="1412.6" cy="480.5" r="4.2"/><circle cx="1426.5" cy="400.5" r="4.2"/><circle cx="1440.4" cy="318.4" r="4.2"/><circle cx="1454.3" cy="319.6" r="4.2"/><circle cx="1468.2" cy="311.9" r="4.2"/><circle cx="1482.2" cy="331.8" r="4.2"/><circle cx="1496.1" cy="324.9" r="4.2"/><circle cx="1510" cy="278.1" r="4.2"/><circle cx="1523.9" cy="306.5" r="4.2"/><circle cx="1537.8" cy="337.2" r="4.2"/><circle cx="1551.7" cy="233.3" r="4.2"/><circle cx="1565.6" cy="290.3" r="4.2"/><circle cx="1579.5" cy="257.4" r="4.2"/><circle cx="1593.4" cy="341.7" r="4.2"/><circle cx="1607.3" cy="267.3" r="4.2"/><circle cx="1621.2" cy="332.3" r="4.2"/><circle cx="1635.1" cy="274.1" r="4.2"/><circle cx="1649" cy="277" r="4.2"/><circle cx="1662.9" cy="324.9" r="4.2"/><circle cx="1676.8" cy="307.6" r="4.2"/><circle cx="1690.7" cy="277.8" r="4.2"/><circle cx="1704.6" cy="321.3" r="4.2"/><circle cx="1718.5" cy="332" r="4.2"/><circle cx="1732.4" cy="281.2" r="4.2"/></g>
<polyline points="1078.9,458.1 1087.2,436.9 1095.5,419.2 1103.7,404.8 1112,392.8 1120.3,386.8 1128.5,384.9 1136.8,383.4 1145.1,381.4 1153.4,386.3 1161.6,393.1 1169.9,397.9 1178.2,399.9 1186.4,395.1 1194.7,394.5 1203,395.6 1211.3,399 1219.5,403.9 1227.8,414.9 1236.1,425.7 1244.4,435.4 1252.6,438.8 1260.9,439.9 1269.2,440.2 1277.4,441.6 1285.7,443 1294,441.6 1302.3,438.8 1310.5,431.6 1318.8,425.3 1327.1,420.5 1335.4,419.8 1343.6,420.9 1351.9,423.5 1360.2,425.2 1368.4,426 1376.7,420.9 1385,413.5 1393.3,406.7 1401.5,397.6 1409.8,390.2 1418.1,389.4 1426.4,390.2 1434.6,395.1 1442.9,399.3 1451.2,404.4 1459.4,398.5 1467.7,385.1 1476,361.9 1484.3,331.8 1492.5,283.5 1500.8,248.6 1509.1,212.5 1517.4,212.5 1525.6,224.2 1533.9,262.5 1542.2,286.9 1550.4,308.5 1558.7,303.5 1567,288.2 1575.3,273.3 1583.5,267.3 1591.8,270.2 1600.1,281.5 1608.4,293 1616.6,301.4 1624.9,306.2 1633.2,307.6 1641.4,316.4 1649.7,326.9 1658,338.9 1666.3,351.1 1674.5,359.9 1682.8,363.8 1691.1,367 1699.3,377.5 1707.6,390.2 1715.9,404.4 1724.2,422 1732.4,442.2" fill="none" stroke="#3C5488" stroke-width="4.9" stroke-opacity="1.0" stroke-linejoin="round" stroke-linecap="butt"/>
<polyline points="1078.9,464.1 1087.2,439.6 1095.5,417.8 1103.7,398.5 1112,383.4 1120.3,373.2 1128.5,367.2 1136.8,363.6 1145.1,360.4 1153.4,365 1161.6,375.2 1169.9,383.4 1178.2,388.3 1186.4,388.8 1194.7,386.8 1203,385.4 1211.3,382.9 1219.5,380 1227.8,384.9 1236.1,389.7 1244.4,394.5 1252.6,395.4 1260.9,395.6 1269.2,397.1 1277.4,399 1285.7,402.7 1294,394.5 1302.3,380.6 1310.5,353.3 1318.8,330.8 1327.1,313.6 1335.4,308.8 1343.6,309.3 1351.9,319.3 1360.2,324.7 1368.4,328.1 1376.7,315 1385,298.5 1393.3,286.6 1401.5,275.8 1409.8,268.2 1418.1,267.6 1426.4,271 1434.6,280.1 1442.9,291.7 1451.2,306.8 1459.4,316.7 1467.7,324.4 1476,335.2 1484.3,342.6 1492.5,343.4 1500.8,337.7 1509.1,325.2 1517.4,316.7 1525.6,312.2 1533.9,310.5 1542.2,311 1550.4,314.2 1558.7,309.3 1567,302.8 1575.3,298 1583.5,295.9 1591.8,296.8 1600.1,297 1608.4,295 1616.6,286.1 1624.9,278.1 1633.2,270.2 1641.4,269 1649.7,271 1658,284.6 1666.3,297.4 1674.5,308.5 1682.8,316.4 1691.1,322.1 1699.3,325.2 1707.6,326.9 1715.9,326.9 1724.2,325.8 1732.4,322.7" fill="none" stroke="#4DBBD5" stroke-width="4.9" stroke-opacity="1.0" stroke-linejoin="round" stroke-linecap="butt"/>
<polyline points="1078.9,455.8 1087.2,438.2 1095.5,421.8 1103.7,408.1 1112,397.1 1120.3,391.7 1128.5,390.2 1136.8,388.8 1145.1,384.3 1153.4,382 1161.6,381.4 1169.9,382 1178.2,383.4 1186.4,385.4 1194.7,387.7 1203,388.8 1211.3,390.2 1219.5,393.7 1227.8,402.7 1236.1,413.5 1244.4,424.6 1252.6,428.6 1260.9,428.3 1269.2,414.9 1277.4,409.5 1285.7,410.7 1294,406.7 1302.3,399.9 1310.5,382.3 1318.8,366.8 1327.1,353.3 1335.4,354.2 1343.6,355 1351.9,333.5 1360.2,317.6 1368.4,311 1376.7,314.2 1385,321 1393.3,341.7 1401.5,366.7 1409.8,384.3 1418.1,390.2 1426.4,394.2 1434.6,376.9 1442.9,356.7 1451.2,325.2 1459.4,316.7 1467.7,318.7 1476,321.5 1484.3,321.8 1492.5,314.2 1500.8,310.2 1509.1,308.2 1517.4,305.1 1525.6,301.4 1533.9,297.7 1542.2,290.9 1550.4,280.1 1558.7,273.6 1567,269.3 1575.3,280 1583.5,289.2 1591.8,298.7 1600.1,304.4 1608.4,307.2 1616.6,300.5 1624.9,294 1633.2,289.2 1641.4,291.7 1649.7,294.9 1658,297.4 1666.3,299.7 1674.5,302.8 1682.8,306.8 1691.1,309.6 1699.3,310.5 1707.6,309.6 1715.9,306.8 1724.2,302.8 1732.4,297.4" fill="none" stroke="#E64B35" stroke-width="4.9" stroke-opacity="1.0" stroke-linejoin="round" stroke-linecap="butt"/>
<rect x="1370.9" y="172.3" width="292" height="322.9" fill="#ADD8E6" fill-opacity="0.15"/>
<text class="tk" text-anchor="end" x="1033.9" y="476.8">0</text>
<text class="tk" text-anchor="end" x="1033.9" y="405.8">25</text>
<text class="tk" text-anchor="end" x="1033.9" y="334.8">50</text>
<text class="tk" text-anchor="end" x="1033.9" y="263.9">75</text>
<text class="tk" text-anchor="end" x="1033.9" y="192.9">100</text>
<text class="tk" text-anchor="middle" x="1065" y="517.2">0</text>
<text class="tk" text-anchor="middle" x="1204" y="517.2">10</text>
<text class="tk" text-anchor="middle" x="1343.1" y="517.2">20</text>
<text class="tk" text-anchor="middle" x="1482.2" y="517.2">30</text>
<text class="tk" text-anchor="middle" x="1621.2" y="517.2">40</text>
<text class="tk" text-anchor="middle" x="1760.2" y="517.2">50</text>
<text class="ax" text-anchor="middle" x="1433.5" y="541.2">Week</text>
<text class="ax" text-anchor="middle" transform="translate(995.6,333.8) rotate(-90)">Weekly Cases (% of Max)</text>
<path d="M88.4 863.3H868.5M88.4 776.7H868.5M88.4 690.2H868.5M88.4 603.6H868.5M179.5 598.3V921.2M318.6 598.3V921.2M457.6 598.3V921.2M596.7 598.3V921.2M735.7 598.3V921.2" stroke="#EBEBEB" stroke-width="1" fill="none"/>
<path d="M88.4 906.5H868.5M88.4 820H868.5M88.4 733.4H868.5M88.4 646.9H868.5M110 598.3V921.2M249 598.3V921.2M388.1 598.3V921.2M527.1 598.3V921.2M666.2 598.3V921.2M805.2 598.3V921.2" stroke="#EBEBEB" stroke-width="2" fill="none"/>
<rect x="415.9" y="598.3" width="292" height="322.9" fill="#ADD8E6" fill-opacity="0.06"/>
<polyline points="123.9,906.5 137.8,897.7 151.7,894.8 165.6,892.1 179.5,892.7 193.4,885.7 207.3,888 221.2,881.9 235.1,886 249,882.2 263,883.6 276.9,875.4 290.8,881.9 304.7,871.6 318.6,880.1 332.5,865.1 346.4,868.1 360.3,854.6 374.2,865.1 402,778.2 415.9,827.3 429.8,808.2 443.7,799.4 457.6,679 471.5,900.1 485.4,755.3 499.3,758.3 513.2,738 527.1,728.9 541.1,631.8 555,903 568.9,741.6 582.8,613 596.7,902.4 610.6,649.4 624.5,898.9 638.4,698.4 652.3,902.4 666.2,758.6 680.1,904.2 694,809.9 707.9,812.6 721.8,842.5 735.7,823.7 749.6,834.6 763.5,839.3 777.4,843.4 791.3,844 805.2,840.5 819.2,841.4 833.1,871.6" fill="none" stroke="#D6563F" stroke-width="1.8" stroke-opacity="0.45" stroke-linejoin="round"/>
<g fill="#E64B35" fill-opacity="0.6"><circle cx="123.9" cy="906.5" r="4.8"/><circle cx="137.8" cy="897.7" r="4.8"/><circle cx="151.7" cy="894.8" r="4.8"/><circle cx="165.6" cy="892.1" r="4.8"/><circle cx="179.5" cy="892.7" r="4.8"/><circle cx="193.4" cy="885.7" r="4.8"/><circle cx="207.3" cy="888" r="4.8"/><circle cx="221.2" cy="881.9" r="4.8"/><circle cx="235.1" cy="886" r="4.8"/><circle cx="249" cy="882.2" r="4.8"/><circle cx="263" cy="883.6" r="4.8"/><circle cx="276.9" cy="875.4" r="4.8"/><circle cx="290.8" cy="881.9" r="4.8"/><circle cx="304.7" cy="871.6" r="4.8"/><circle cx="318.6" cy="880.1" r="4.8"/><circle cx="332.5" cy="865.1" r="4.8"/><circle cx="346.4" cy="868.1" r="4.8"/><circle cx="360.3" cy="854.6" r="4.8"/><circle cx="374.2" cy="865.1" r="4.8"/><circle cx="402" cy="778.2" r="4.8"/><circle cx="415.9" cy="827.3" r="4.8"/><circle cx="429.8" cy="808.2" r="4.8"/><circle cx="443.7" cy="799.4" r="4.8"/><circle cx="457.6" cy="679" r="4.8"/><circle cx="471.5" cy="900.1" r="4.8"/><circle cx="485.4" cy="755.3" r="4.8"/><circle cx="499.3" cy="758.3" r="4.8"/><circle cx="513.2" cy="738" r="4.8"/><circle cx="527.1" cy="728.9" r="4.8"/><circle cx="541.1" cy="631.8" r="4.8"/><circle cx="555" cy="903" r="4.8"/><circle cx="568.9" cy="741.6" r="4.8"/><circle cx="582.8" cy="613" r="4.8"/><circle cx="596.7" cy="902.4" r="4.8"/><circle cx="610.6" cy="649.4" r="4.8"/><circle cx="624.5" cy="898.9" r="4.8"/><circle cx="638.4" cy="698.4" r="4.8"/><circle cx="652.3" cy="902.4" r="4.8"/><circle cx="666.2" cy="758.6" r="4.8"/><circle cx="680.1" cy="904.2" r="4.8"/><circle cx="694" cy="809.9" r="4.8"/><circle cx="707.9" cy="812.6" r="4.8"/><circle cx="721.8" cy="842.5" r="4.8"/><circle cx="735.7" cy="823.7" r="4.8"/><circle cx="749.6" cy="834.6" r="4.8"/><circle cx="763.5" cy="839.3" r="4.8"/><circle cx="777.4" cy="843.4" r="4.8"/><circle cx="791.3" cy="844" r="4.8"/><circle cx="805.2" cy="840.5" r="4.8"/><circle cx="819.2" cy="841.4" r="4.8"/><circle cx="833.1" cy="871.6" r="4.8"/></g>
<g fill="none" stroke="#E64B35" stroke-opacity="0.44999999999999996" stroke-width="1.2"><circle cx="123.9" cy="906.5" r="4.2"/><circle cx="137.8" cy="897.7" r="4.2"/><circle cx="151.7" cy="894.8" r="4.2"/><circle cx="165.6" cy="892.1" r="4.2"/><circle cx="179.5" cy="892.7" r="4.2"/><circle cx="193.4" cy="885.7" r="4.2"/><circle cx="207.3" cy="888" r="4.2"/><circle cx="221.2" cy="881.9" r="4.2"/><circle cx="235.1" cy="886" r="4.2"/><circle cx="249" cy="882.2" r="4.2"/><circle cx="263" cy="883.6" r="4.2"/><circle cx="276.9" cy="875.4" r="4.2"/><circle cx="290.8" cy="881.9" r="4.2"/><circle cx="304.7" cy="871.6" r="4.2"/><circle cx="318.6" cy="880.1" r="4.2"/><circle cx="332.5" cy="865.1" r="4.2"/><circle cx="346.4" cy="868.1" r="4.2"/><circle cx="360.3" cy="854.6" r="4.2"/><circle cx="374.2" cy="865.1" r="4.2"/><circle cx="402" cy="778.2" r="4.2"/><circle cx="415.9" cy="827.3" r="4.2"/><circle cx="429.8" cy="808.2" r="4.2"/><circle cx="443.7" cy="799.4" r="4.2"/><circle cx="457.6" cy="679" r="4.2"/><circle cx="471.5" cy="900.1" r="4.2"/><circle cx="485.4" cy="755.3" r="4.2"/><circle cx="499.3" cy="758.3" r="4.2"/><circle cx="513.2" cy="738" r="4.2"/><circle cx="527.1" cy="728.9" r="4.2"/><circle cx="541.1" cy="631.8" r="4.2"/><circle cx="555" cy="903" r="4.2"/><circle cx="568.9" cy="741.6" r="4.2"/><circle cx="582.8" cy="613" r="4.2"/><circle cx="596.7" cy="902.4" r="4.2"/><circle cx="610.6" cy="649.4" r="4.2"/><circle cx="624.5" cy="898.9" r="4.2"/><circle cx="638.4" cy="698.4" r="4.2"/><circle cx="652.3" cy="902.4" r="4.2"/><circle cx="666.2" cy="758.6" r="4.2"/><circle cx="680.1" cy="904.2" r="4.2"/><circle cx="694" cy="809.9" r="4.2"/><circle cx="707.9" cy="812.6" r="4.2"/><circle cx="721.8" cy="842.5" r="4.2"/><circle cx="735.7" cy="823.7" r="4.2"/><circle cx="749.6" cy="834.6" r="4.2"/><circle cx="763.5" cy="839.3" r="4.2"/><circle cx="777.4" cy="843.4" r="4.2"/><circle cx="791.3" cy="844" r="4.2"/><circle cx="805.2" cy="840.5" r="4.2"/><circle cx="819.2" cy="841.4" r="4.2"/><circle cx="833.1" cy="871.6" r="4.2"/></g>
<polyline points="123.9,904.8 132.9,901.2 141.9,897.8 150.8,894.8 159.8,892.6 168.8,890.9 177.8,889.7 186.7,888.7 195.7,887.7 204.7,886.6 213.7,885.6 222.6,884.7 231.6,884.1 240.6,883.3 249.6,882.4 258.6,881.2 267.5,880 276.5,878.7 285.5,877.7 294.5,876.6 303.4,875.3 312.4,874.1 321.4,873 330.4,871.9 339.3,869.7 348.3,866.2 357.3,860.7 366.3,853.1 375.3,844 384.2,835.2 393.2,827 402.2,818.8 411.2,807.9 420.1,796.1 429.1,788.2 438.1,787.6 447.1,787 456,786.5 465,785.6 474,783.5 483,786.5 491.9,775 500.9,751.2 509.9,727.8 518.9,723.6 527.9,731.9 536.8,739.5 545.8,742.7 554.8,746.8 563.8,750.4 572.7,753.3 581.7,753.3 590.7,755.5 599.7,758.3 608.6,763.6 617.6,779.4 626.6,794.4 635.6,804.1 644.6,812.3 653.5,820.5 662.5,829.3 671.5,833.4 680.5,834.9 689.4,834.9 698.4,833.4 707.4,829.3 716.4,828.7 725.3,828.1 734.3,828.1 743.3,832 752.3,836.1 761.2,838.1 770.2,839.3 779.2,840.5 788.2,841.1 797.2,843.7 806.1,847.2 815.1,851.9 824.1,857.5 833.1,862.8" fill="none" stroke="#E64B35" stroke-width="4.9" stroke-opacity="1.0" stroke-linejoin="round" stroke-linecap="butt"/>
<polyline points="123.9,906.5 137.8,897.6 151.7,894.3 165.6,895.2 179.5,890.1 193.4,883.4 207.3,894.8 221.2,887.4 235.1,892.1 249,889.9 263,889.2 276.9,882.2 290.8,885.5 304.7,877.3 318.6,884.5 332.5,876.1 346.4,881.7 360.3,863.4 374.2,890.4 402,821.6 415.9,861 429.8,855.4 443.7,803.7 457.6,905.1 471.5,856.8 485.4,838.1 499.3,817.1 513.2,904.3 527.1,849.8 541.1,838 555,849.4 568.9,854 582.8,840.1 596.7,855.4 610.6,838.7 624.5,847.1 638.4,858.2 652.3,833.6 666.2,870.7 680.1,849.2 694,861.6 707.9,851.7 721.8,904.3 735.7,854.7 749.6,812.7 763.5,839.7 777.4,875 791.3,872.2 805.2,839 819.2,904.7 833.1,866.2" fill="none" stroke="#52B2CA" stroke-width="1.8" stroke-opacity="0.45" stroke-linejoin="round"/>
<g fill="#4DBBD5" fill-opacity="0.6"><circle cx="123.9" cy="906.5" r="4.8"/><circle cx="137.8" cy="897.6" r="4.8"/><circle cx="151.7" cy="894.3" r="4.8"/><circle cx="165.6" cy="895.2" r="4.8"/><circle cx="179.5" cy="890.1" r="4.8"/><circle cx="193.4" cy="883.4" r="4.8"/><circle cx="207.3" cy="894.8" r="4.8"/><circle cx="221.2" cy="887.4" r="4.8"/><circle cx="235.1" cy="892.1" r="4.8"/><circle cx="249" cy="889.9" r="4.8"/><circle cx="263" cy="889.2" r="4.8"/><circle cx="276.9" cy="882.2" r="4.8"/><circle cx="290.8" cy="885.5" r="4.8"/><circle cx="304.7" cy="877.3" r="4.8"/><circle cx="318.6" cy="884.5" r="4.8"/><circle cx="332.5" cy="876.1" r="4.8"/><circle cx="346.4" cy="881.7" r="4.8"/><circle cx="360.3" cy="863.4" r="4.8"/><circle cx="374.2" cy="890.4" r="4.8"/><circle cx="402" cy="821.6" r="4.8"/><circle cx="415.9" cy="861" r="4.8"/><circle cx="429.8" cy="855.4" r="4.8"/><circle cx="443.7" cy="803.7" r="4.8"/><circle cx="457.6" cy="905.1" r="4.8"/><circle cx="471.5" cy="856.8" r="4.8"/><circle cx="485.4" cy="838.1" r="4.8"/><circle cx="499.3" cy="817.1" r="4.8"/><circle cx="513.2" cy="904.3" r="4.8"/><circle cx="527.1" cy="849.8" r="4.8"/><circle cx="541.1" cy="838" r="4.8"/><circle cx="555" cy="849.4" r="4.8"/><circle cx="568.9" cy="854" r="4.8"/><circle cx="582.8" cy="840.1" r="4.8"/><circle cx="596.7" cy="855.4" r="4.8"/><circle cx="610.6" cy="838.7" r="4.8"/><circle cx="624.5" cy="847.1" r="4.8"/><circle cx="638.4" cy="858.2" r="4.8"/><circle cx="652.3" cy="833.6" r="4.8"/><circle cx="666.2" cy="870.7" r="4.8"/><circle cx="680.1" cy="849.2" r="4.8"/><circle cx="694" cy="861.6" r="4.8"/><circle cx="707.9" cy="851.7" r="4.8"/><circle cx="721.8" cy="904.3" r="4.8"/><circle cx="735.7" cy="854.7" r="4.8"/><circle cx="749.6" cy="812.7" r="4.8"/><circle cx="763.5" cy="839.7" r="4.8"/><circle cx="777.4" cy="875" r="4.8"/><circle cx="791.3" cy="872.2" r="4.8"/><circle cx="805.2" cy="839" r="4.8"/><circle cx="819.2" cy="904.7" r="4.8"/><circle cx="833.1" cy="866.2" r="4.8"/></g>
<g fill="none" stroke="#4DBBD5" stroke-opacity="0.44999999999999996" stroke-width="1.2"><circle cx="123.9" cy="906.5" r="4.2"/><circle cx="137.8" cy="897.6" r="4.2"/><circle cx="151.7" cy="894.3" r="4.2"/><circle cx="165.6" cy="895.2" r="4.2"/><circle cx="179.5" cy="890.1" r="4.2"/><circle cx="193.4" cy="883.4" r="4.2"/><circle cx="207.3" cy="894.8" r="4.2"/><circle cx="221.2" cy="887.4" r="4.2"/><circle cx="235.1" cy="892.1" r="4.2"/><circle cx="249" cy="889.9" r="4.2"/><circle cx="263" cy="889.2" r="4.2"/><circle cx="276.9" cy="882.2" r="4.2"/><circle cx="290.8" cy="885.5" r="4.2"/><circle cx="304.7" cy="877.3" r="4.2"/><circle cx="318.6" cy="884.5" r="4.2"/><circle cx="332.5" cy="876.1" r="4.2"/><circle cx="346.4" cy="881.7" r="4.2"/><circle cx="360.3" cy="863.4" r="4.2"/><circle cx="374.2" cy="890.4" r="4.2"/><circle cx="402" cy="821.6" r="4.2"/><circle cx="415.9" cy="861" r="4.2"/><circle cx="429.8" cy="855.4" r="4.2"/><circle cx="443.7" cy="803.7" r="4.2"/><circle cx="457.6" cy="905.1" r="4.2"/><circle cx="471.5" cy="856.8" r="4.2"/><circle cx="485.4" cy="838.1" r="4.2"/><circle cx="499.3" cy="817.1" r="4.2"/><circle cx="513.2" cy="904.3" r="4.2"/><circle cx="527.1" cy="849.8" r="4.2"/><circle cx="541.1" cy="838" r="4.2"/><circle cx="555" cy="849.4" r="4.2"/><circle cx="568.9" cy="854" r="4.2"/><circle cx="582.8" cy="840.1" r="4.2"/><circle cx="596.7" cy="855.4" r="4.2"/><circle cx="610.6" cy="838.7" r="4.2"/><circle cx="624.5" cy="847.1" r="4.2"/><circle cx="638.4" cy="858.2" r="4.2"/><circle cx="652.3" cy="833.6" r="4.2"/><circle cx="666.2" cy="870.7" r="4.2"/><circle cx="680.1" cy="849.2" r="4.2"/><circle cx="694" cy="861.6" r="4.2"/><circle cx="707.9" cy="851.7" r="4.2"/><circle cx="721.8" cy="904.3" r="4.2"/><circle cx="735.7" cy="854.7" r="4.2"/><circle cx="749.6" cy="812.7" r="4.2"/><circle cx="763.5" cy="839.7" r="4.2"/><circle cx="777.4" cy="875" r="4.2"/><circle cx="791.3" cy="872.2" r="4.2"/><circle cx="805.2" cy="839" r="4.2"/><circle cx="819.2" cy="904.7" r="4.2"/><circle cx="833.1" cy="866.2" r="4.2"/></g>
<polyline points="123.9,905 132.9,901.1 141.9,897.7 150.8,895.1 159.8,893.1 168.8,891.4 177.8,890.1 186.7,889.4 195.7,889 204.7,889 213.7,889.4 222.6,889.9 231.6,890.5 240.6,890.4 249.6,889.8 258.6,888.3 267.5,886.7 276.5,884.9 285.5,883.4 294.5,882.2 303.4,881.3 312.4,880.5 321.4,880 330.4,879.8 339.3,879.7 348.3,879 357.3,876.5 366.3,871.8 375.3,866.9 384.2,860.7 393.2,854.3 402.2,848.5 411.2,845.1 420.1,843.8 429.1,844.4 438.1,851.6 447.1,857.6 456,855.4 465,852.7 474,852.3 483,853.8 491.9,854.3 500.9,853.8 509.9,853.3 518.9,853.5 527.9,854.3 536.8,854.7 545.8,853.3 554.8,849.5 563.8,846.8 572.7,846.1 581.7,847.3 590.7,847 599.7,846.5 608.6,846.2 617.6,846.1 626.6,846.2 635.6,848.3 644.6,850.5 653.5,852 662.5,852.4 671.5,854.4 680.5,858.2 689.4,862.5 698.4,866.3 707.4,870.1 716.4,865.4 725.3,858.7 734.3,853.4 743.3,849 752.3,846 761.2,846.2 770.2,848.1 779.2,851.5 788.2,857.7 797.2,862.9 806.1,867.8 815.1,872.1 824.1,875 833.1,877.3" fill="none" stroke="#4DBBD5" stroke-width="4.9" stroke-opacity="1.0" stroke-linejoin="round" stroke-linecap="butt"/>
<polyline points="123.9,906.5 137.8,893.1 151.7,896.3 165.6,898.5 179.5,898.8 193.4,898.5 207.3,898.8 221.2,899.4 235.1,899.1 249,898.8 263,898.2 276.9,890.1 290.8,888 304.7,889.8 318.6,895.2 332.5,893.4 346.4,867.7 360.3,902 374.2,905.6 402,876.5 415.9,888 429.8,883.5 443.7,879.1 457.6,876.9 471.5,903.8 485.4,866.9 499.3,904.5 513.2,873 527.1,827.2 541.1,902.7 555,888.4 568.9,904.8 582.8,798.4 596.7,904.8 610.6,803.2 624.5,902.3 638.4,828.8 652.3,904.5 666.2,871.7 680.1,848.9 694,849.4 707.9,880.3 721.8,836.3 735.7,819.8 749.6,793.8 763.5,798.9 777.4,869.8 791.3,833.2 805.2,876.9 819.2,873.1 833.1,760.8" fill="none" stroke="#384E7C" stroke-width="1.8" stroke-opacity="0.45" stroke-linejoin="round"/>
<g fill="#3C5488" fill-opacity="0.6"><circle cx="123.9" cy="906.5" r="4.8"/><circle cx="137.8" cy="893.1" r="4.8"/><circle cx="151.7" cy="896.3" r="4.8"/><circle cx="165.6" cy="898.5" r="4.8"/><circle cx="179.5" cy="898.8" r="4.8"/><circle cx="193.4" cy="898.5" r="4.8"/><circle cx="207.3" cy="898.8" r="4.8"/><circle cx="221.2" cy="899.4" r="4.8"/><circle cx="235.1" cy="899.1" r="4.8"/><circle cx="249" cy="898.8" r="4.8"/><circle cx="263" cy="898.2" r="4.8"/><circle cx="276.9" cy="890.1" r="4.8"/><circle cx="290.8" cy="888" r="4.8"/><circle cx="304.7" cy="889.8" r="4.8"/><circle cx="318.6" cy="895.2" r="4.8"/><circle cx="332.5" cy="893.4" r="4.8"/><circle cx="346.4" cy="867.7" r="4.8"/><circle cx="360.3" cy="902" r="4.8"/><circle cx="374.2" cy="905.6" r="4.8"/><circle cx="402" cy="876.5" r="4.8"/><circle cx="415.9" cy="888" r="4.8"/><circle cx="429.8" cy="883.5" r="4.8"/><circle cx="443.7" cy="879.1" r="4.8"/><circle cx="457.6" cy="876.9" r="4.8"/><circle cx="471.5" cy="903.8" r="4.8"/><circle cx="485.4" cy="866.9" r="4.8"/><circle cx="499.3" cy="904.5" r="4.8"/><circle cx="513.2" cy="873" r="4.8"/><circle cx="527.1" cy="827.2" r="4.8"/><circle cx="541.1" cy="902.7" r="4.8"/><circle cx="555" cy="888.4" r="4.8"/><circle cx="568.9" cy="904.8" r="4.8"/><circle cx="582.8" cy="798.4" r="4.8"/><circle cx="596.7" cy="904.8" r="4.8"/><circle cx="610.6" cy="803.2" r="4.8"/><circle cx="624.5" cy="902.3" r="4.8"/><circle cx="638.4" cy="828.8" r="4.8"/><circle cx="652.3" cy="904.5" r="4.8"/><circle cx="666.2" cy="871.7" r="4.8"/><circle cx="680.1" cy="848.9" r="4.8"/><circle cx="694" cy="849.4" r="4.8"/><circle cx="707.9" cy="880.3" r="4.8"/><circle cx="721.8" cy="836.3" r="4.8"/><circle cx="735.7" cy="819.8" r="4.8"/><circle cx="749.6" cy="793.8" r="4.8"/><circle cx="763.5" cy="798.9" r="4.8"/><circle cx="777.4" cy="869.8" r="4.8"/><circle cx="791.3" cy="833.2" r="4.8"/><circle cx="805.2" cy="876.9" r="4.8"/><circle cx="819.2" cy="873.1" r="4.8"/><circle cx="833.1" cy="760.8" r="4.8"/></g>
<g fill="none" stroke="#3C5488" stroke-opacity="0.44999999999999996" stroke-width="1.2"><circle cx="123.9" cy="906.5" r="4.2"/><circle cx="137.8" cy="893.1" r="4.2"/><circle cx="151.7" cy="896.3" r="4.2"/><circle cx="165.6" cy="898.5" r="4.2"/><circle cx="179.5" cy="898.8" r="4.2"/><circle cx="193.4" cy="898.5" r="4.2"/><circle cx="207.3" cy="898.8" r="4.2"/><circle cx="221.2" cy="899.4" r="4.2"/><circle cx="235.1" cy="899.1" r="4.2"/><circle cx="249" cy="898.8" r="4.2"/><circle cx="263" cy="898.2" r="4.2"/><circle cx="276.9" cy="890.1" r="4.2"/><circle cx="290.8" cy="888" r="4.2"/><circle cx="304.7" cy="889.8" r="4.2"/><circle cx="318.6" cy="895.2" r="4.2"/><circle cx="332.5" cy="893.4" r="4.2"/><circle cx="346.4" cy="867.7" r="4.2"/><circle cx="360.3" cy="902" r="4.2"/><circle cx="374.2" cy="905.6" r="4.2"/><circle cx="402" cy="876.5" r="4.2"/><circle cx="415.9" cy="888" r="4.2"/><circle cx="429.8" cy="883.5" r="4.2"/><circle cx="443.7" cy="879.1" r="4.2"/><circle cx="457.6" cy="876.9" r="4.2"/><circle cx="471.5" cy="903.8" r="4.2"/><circle cx="485.4" cy="866.9" r="4.2"/><circle cx="499.3" cy="904.5" r="4.2"/><circle cx="513.2" cy="873" r="4.2"/><circle cx="527.1" cy="827.2" r="4.2"/><circle cx="541.1" cy="902.7" r="4.2"/><circle cx="555" cy="888.4" r="4.2"/><circle cx="568.9" cy="904.8" r="4.2"/><circle cx="582.8" cy="798.4" r="4.2"/><circle cx="596.7" cy="904.8" r="4.2"/><circle cx="610.6" cy="803.2" r="4.2"/><circle cx="624.5" cy="902.3" r="4.2"/><circle cx="638.4" cy="828.8" r="4.2"/><circle cx="652.3" cy="904.5" r="4.2"/><circle cx="666.2" cy="871.7" r="4.2"/><circle cx="680.1" cy="848.9" r="4.2"/><circle cx="694" cy="849.4" r="4.2"/><circle cx="707.9" cy="880.3" r="4.2"/><circle cx="721.8" cy="836.3" r="4.2"/><circle cx="735.7" cy="819.8" r="4.2"/><circle cx="749.6" cy="793.8" r="4.2"/><circle cx="763.5" cy="798.9" r="4.2"/><circle cx="777.4" cy="869.8" r="4.2"/><circle cx="791.3" cy="833.2" r="4.2"/><circle cx="805.2" cy="876.9" r="4.2"/><circle cx="819.2" cy="873.1" r="4.2"/><circle cx="833.1" cy="760.8" r="4.2"/></g>
<polyline points="123.9,901.9 132.9,900.2 141.9,898.7 150.8,897.5 159.8,897 168.8,896.9 177.8,897.4 186.7,898 195.7,898.6 204.7,898.7 213.7,899.1 222.6,899.4 231.6,899.4 240.6,898.9 249.6,898.1 258.6,896.1 267.5,894 276.5,891.7 285.5,890.8 294.5,889.9 303.4,889.3 312.4,888.7 321.4,888.4 330.4,888.7 339.3,889.5 348.3,890.6 357.3,892.8 366.3,893.8 375.3,894 384.2,892.8 393.2,889.8 402.2,887 411.2,884.4 420.1,882 429.1,881 438.1,882.3 447.1,883.9 456,886 465,887.7 474,888 483,888 491.9,884.4 500.9,877.2 509.9,870.8 518.9,870.7 527.9,874.2 536.8,878 545.8,878.1 554.8,878.1 563.8,877.5 572.7,873.1 581.7,862.6 590.7,857.4 599.7,852.4 608.6,850 617.6,856.4 626.6,861.8 635.6,865.9 644.6,869.2 653.5,871.5 662.5,869.5 671.5,867.9 680.5,866.1 689.4,863.1 698.4,858.4 707.4,851.6 716.4,842.7 725.3,831.2 734.3,820.4 743.3,813.2 752.3,810.5 761.2,818.3 770.2,830.6 779.2,840.8 788.2,852.3 797.2,853 806.1,848.2 815.1,837.7 824.1,820.4 833.1,794.6" fill="none" stroke="#3C5488" stroke-width="4.9" stroke-opacity="1.0" stroke-linejoin="round" stroke-linecap="butt"/>
<rect x="415.9" y="598.3" width="292" height="322.9" fill="#ADD8E6" fill-opacity="0.15"/>
<text class="tk" text-anchor="end" x="78.9" y="912.4">0</text>
<text class="tk" text-anchor="end" x="78.9" y="825.9">5000</text>
<text class="tk" text-anchor="end" x="78.9" y="739.3">10000</text>
<text class="tk" text-anchor="end" x="78.9" y="652.8">15000</text>
<text class="tk" text-anchor="middle" x="110" y="943.2">0</text>
<text class="tk" text-anchor="middle" x="249" y="943.2">10</text>
<text class="tk" text-anchor="middle" x="388.1" y="943.2">20</text>
<text class="tk" text-anchor="middle" x="527.1" y="943.2">30</text>
<text class="tk" text-anchor="middle" x="666.2" y="943.2">40</text>
<text class="tk" text-anchor="middle" x="805.2" y="943.2">50</text>
<text class="ax" text-anchor="middle" x="478.5" y="967.2">Week</text>
<text class="tk" x="878" y="912.4">0</text>
<text class="tk" x="878" y="849.3">500</text>
<text class="tk" x="878" y="786.1">1000</text>
<text class="tk" x="878" y="723">1500</text>
<text class="tk" x="878" y="659.8">2000</text>
<text class="ax" text-anchor="middle" transform="translate(22.1,759.8) rotate(-90)">Dengue Cases</text>
<text class="ax" text-anchor="middle" transform="translate(924.5,759.8) rotate(90)">Typhoid / Leptospirosis Cases</text>
<path d="M1043.4 859.9H1823.5M1043.4 786.1H1823.5M1043.4 712.2H1823.5M1043.4 638.4H1823.5M1134.5 598.3V921.2M1273.6 598.3V921.2M1412.6 598.3V921.2M1551.7 598.3V921.2M1690.7 598.3V921.2" stroke="#EBEBEB" stroke-width="1" fill="none"/>
<path d="M1043.4 896.9H1823.5M1043.4 823H1823.5M1043.4 749.2H1823.5M1043.4 675.3H1823.5M1043.4 601.5H1823.5M1065 598.3V921.2M1204 598.3V921.2M1343.1 598.3V921.2M1482.2 598.3V921.2M1621.2 598.3V921.2M1760.2 598.3V921.2" stroke="#EBEBEB" stroke-width="2" fill="none"/>
<rect x="1370.9" y="598.3" width="292" height="322.9" fill="#ADD8E6" fill-opacity="0.06"/>
<polyline points="1078.9,896.9 1092.8,838.1 1106.7,808.9 1120.6,829 1134.5,816 1148.4,831 1162.3,771.7 1176.2,830.2 1190.1,822.5 1204,798.9 1218,823.6 1231.9,831.6 1245.8,848.9 1259.7,857.4 1273.6,867.6 1287.5,782.7 1301.4,829 1315.3,893.7 1329.2,658.1 1343.1,801.5 1357,803.2 1370.9,779.3 1384.8,613 1412.6,906.5 1426.5,826.5 1440.4,744.4 1454.3,745.6 1468.2,737.9 1482.2,757.8 1496.1,750.9 1510,704.1 1523.9,732.5 1537.8,763.2 1551.7,659.3 1565.6,716.3 1579.5,683.4 1593.4,767.7 1607.3,693.3 1621.2,758.3 1635.1,700.1 1649,703 1662.9,750.9 1676.8,733.6 1690.7,703.8 1704.6,747.3 1718.5,758 1732.4,707.2" fill="none" stroke="#D6563F" stroke-width="1.8" stroke-opacity="0.45" stroke-linejoin="round"/>
<g fill="#E64B35" fill-opacity="0.6"><circle cx="1078.9" cy="896.9" r="4.8"/><circle cx="1092.8" cy="838.1" r="4.8"/><circle cx="1106.7" cy="808.9" r="4.8"/><circle cx="1120.6" cy="829" r="4.8"/><circle cx="1134.5" cy="816" r="4.8"/><circle cx="1148.4" cy="831" r="4.8"/><circle cx="1162.3" cy="771.7" r="4.8"/><circle cx="1176.2" cy="830.2" r="4.8"/><circle cx="1190.1" cy="822.5" r="4.8"/><circle cx="1204" cy="798.9" r="4.8"/><circle cx="1218" cy="823.6" r="4.8"/><circle cx="1231.9" cy="831.6" r="4.8"/><circle cx="1245.8" cy="848.9" r="4.8"/><circle cx="1259.7" cy="857.4" r="4.8"/><circle cx="1273.6" cy="867.6" r="4.8"/><circle cx="1287.5" cy="782.7" r="4.8"/><circle cx="1301.4" cy="829" r="4.8"/><circle cx="1315.3" cy="893.7" r="4.8"/><circle cx="1329.2" cy="658.1" r="4.8"/><circle cx="1343.1" cy="801.5" r="4.8"/><circle cx="1357" cy="803.2" r="4.8"/><circle cx="1370.9" cy="779.3" r="4.8"/><circle cx="1384.8" cy="613" r="4.8"/><circle cx="1412.6" cy="906.5" r="4.8"/><circle cx="1426.5" cy="826.5" r="4.8"/><circle cx="1440.4" cy="744.4" r="4.8"/><circle cx="1454.3" cy="745.6" r="4.8"/><circle cx="1468.2" cy="737.9" r="4.8"/><circle cx="1482.2" cy="757.8" r="4.8"/><circle cx="1496.1" cy="750.9" r="4.8"/><circle cx="1510" cy="704.1" r="4.8"/><circle cx="1523.9" cy="732.5" r="4.8"/><circle cx="1537.8" cy="763.2" r="4.8"/><circle cx="1551.7" cy="659.3" r="4.8"/><circle cx="1565.6" cy="716.3" r="4.8"/><circle cx="1579.5" cy="683.4" r="4.8"/><circle cx="1593.4" cy="767.7" r="4.8"/><circle cx="1607.3" cy="693.3" r="4.8"/><circle cx="1621.2" cy="758.3" r="4.8"/><circle cx="1635.1" cy="700.1" r="4.8"/><circle cx="1649" cy="703" r="4.8"/><circle cx="1662.9" cy="750.9" r="4.8"/><circle cx="1676.8" cy="733.6" r="4.8"/><circle cx="1690.7" cy="703.8" r="4.8"/><circle cx="1704.6" cy="747.3" r="4.8"/><circle cx="1718.5" cy="758" r="4.8"/><circle cx="1732.4" cy="707.2" r="4.8"/></g>
<g fill="none" stroke="#E64B35" stroke-opacity="0.44999999999999996" stroke-width="1.2"><circle cx="1078.9" cy="896.9" r="4.2"/><circle cx="1092.8" cy="838.1" r="4.2"/><circle cx="1106.7" cy="808.9" r="4.2"/><circle cx="1120.6" cy="829" r="4.2"/><circle cx="1134.5" cy="816" r="4.2"/><circle cx="1148.4" cy="831" r="4.2"/><circle cx="1162.3" cy="771.7" r="4.2"/><circle cx="1176.2" cy="830.2" r="4.2"/><circle cx="1190.1" cy="822.5" r="4.2"/><circle cx="1204" cy="798.9" r="4.2"/><circle cx="1218" cy="823.6" r="4.2"/><circle cx="1231.9" cy="831.6" r="4.2"/><circle cx="1245.8" cy="848.9" r="4.2"/><circle cx="1259.7" cy="857.4" r="4.2"/><circle cx="1273.6" cy="867.6" r="4.2"/><circle cx="1287.5" cy="782.7" r="4.2"/><circle cx="1301.4" cy="829" r="4.2"/><circle cx="1315.3" cy="893.7" r="4.2"/><circle cx="1329.2" cy="658.1" r="4.2"/><circle cx="1343.1" cy="801.5" r="4.2"/><circle cx="1357" cy="803.2" r="4.2"/><circle cx="1370.9" cy="779.3" r="4.2"/><circle cx="1384.8" cy="613" r="4.2"/><circle cx="1412.6" cy="906.5" r="4.2"/><circle cx="1426.5" cy="826.5" r="4.2"/><circle cx="1440.4" cy="744.4" r="4.2"/><circle cx="1454.3" cy="745.6" r="4.2"/><circle cx="1468.2" cy="737.9" r="4.2"/><circle cx="1482.2" cy="757.8" r="4.2"/><circle cx="1496.1" cy="750.9" r="4.2"/><circle cx="1510" cy="704.1" r="4.2"/><circle cx="1523.9" cy="732.5" r="4.2"/><circle cx="1537.8" cy="763.2" r="4.2"/><circle cx="1551.7" cy="659.3" r="4.2"/><circle cx="1565.6" cy="716.3" r="4.2"/><circle cx="1579.5" cy="683.4" r="4.2"/><circle cx="1593.4" cy="767.7" r="4.2"/><circle cx="1607.3" cy="693.3" r="4.2"/><circle cx="1621.2" cy="758.3" r="4.2"/><circle cx="1635.1" cy="700.1" r="4.2"/><circle cx="1649" cy="703" r="4.2"/><circle cx="1662.9" cy="750.9" r="4.2"/><circle cx="1676.8" cy="733.6" r="4.2"/><circle cx="1690.7" cy="703.8" r="4.2"/><circle cx="1704.6" cy="747.3" r="4.2"/><circle cx="1718.5" cy="758" r="4.2"/><circle cx="1732.4" cy="707.2" r="4.2"/></g>
<polyline points="1078.9,881.8 1087.2,864.2 1095.5,847.8 1103.7,834.1 1112,823.1 1120.3,817.7 1128.5,816.2 1136.8,814.8 1145.1,810.3 1153.4,808 1161.6,807.4 1169.9,808 1178.2,809.4 1186.4,811.4 1194.7,813.7 1203,814.8 1211.3,816.2 1219.5,819.7 1227.8,828.7 1236.1,839.5 1244.4,850.6 1252.6,854.6 1260.9,854.3 1269.2,840.9 1277.4,835.5 1285.7,836.7 1294,832.7 1302.3,825.9 1310.5,808.3 1318.8,792.8 1327.1,779.3 1335.4,780.2 1343.6,781 1351.9,759.5 1360.2,743.6 1368.4,737 1376.7,740.2 1385,747 1393.3,767.7 1401.5,792.7 1409.8,810.3 1418.1,816.2 1426.4,820.2 1434.6,802.9 1442.9,782.7 1451.2,751.2 1459.4,742.7 1467.7,744.7 1476,747.5 1484.3,747.8 1492.5,740.2 1500.8,736.2 1509.1,734.2 1517.4,731.1 1525.6,727.4 1533.9,723.7 1542.2,716.9 1550.4,706.1 1558.7,699.6 1567,695.3 1575.3,706 1583.5,715.2 1591.8,724.7 1600.1,730.4 1608.4,733.2 1616.6,726.5 1624.9,720 1633.2,715.2 1641.4,717.7 1649.7,720.9 1658,723.4 1666.3,725.7 1674.5,728.8 1682.8,732.8 1691.1,735.6 1699.3,736.5 1707.6,735.6 1715.9,732.8 1724.2,728.8 1732.4,723.4" fill="none" stroke="#E64B35" stroke-width="4.9" stroke-opacity="1.0" stroke-linejoin="round" stroke-linecap="butt"/>
<polyline points="1078.9,896.9 1092.8,855.6 1106.7,826.6 1120.6,844.5 1134.5,781 1148.4,834.3 1162.3,800.9 1176.2,837.4 1190.1,844.3 1204,811.6 1218,829.3 1231.9,834.5 1245.8,822.7 1259.7,854.7 1273.6,825 1287.5,839 1301.4,831.3 1315.3,824.3 1329.2,703.6 1343.1,793.9 1357,794.8 1370.9,775.1 1384.8,778.9 1412.6,670.1 1426.5,776.7 1440.4,777.1 1454.3,736.3 1468.2,766.5 1482.2,817.7 1496.1,794.6 1510,772.8 1523.9,755.6 1537.8,792.3 1551.7,758.5 1565.6,760.8 1579.5,780.3 1593.4,724.9 1607.3,775.1 1621.2,761.5 1635.1,729 1649,709.1 1662.9,783.2 1676.8,768.5 1690.7,765.5 1704.6,773.3 1718.5,797.1 1732.4,771.9" fill="none" stroke="#52B2CA" stroke-width="1.8" stroke-opacity="0.45" stroke-linejoin="round"/>
<g fill="#4DBBD5" fill-opacity="0.6"><circle cx="1078.9" cy="896.9" r="4.8"/><circle cx="1092.8" cy="855.6" r="4.8"/><circle cx="1106.7" cy="826.6" r="4.8"/><circle cx="1120.6" cy="844.5" r="4.8"/><circle cx="1134.5" cy="781" r="4.8"/><circle cx="1148.4" cy="834.3" r="4.8"/><circle cx="1162.3" cy="800.9" r="4.8"/><circle cx="1176.2" cy="837.4" r="4.8"/><circle cx="1190.1" cy="844.3" r="4.8"/><circle cx="1204" cy="811.6" r="4.8"/><circle cx="1218" cy="829.3" r="4.8"/><circle cx="1231.9" cy="834.5" r="4.8"/><circle cx="1245.8" cy="822.7" r="4.8"/><circle cx="1259.7" cy="854.7" r="4.8"/><circle cx="1273.6" cy="825" r="4.8"/><circle cx="1287.5" cy="839" r="4.8"/><circle cx="1301.4" cy="831.3" r="4.8"/><circle cx="1315.3" cy="824.3" r="4.8"/><circle cx="1329.2" cy="703.6" r="4.8"/><circle cx="1343.1" cy="793.9" r="4.8"/><circle cx="1357" cy="794.8" r="4.8"/><circle cx="1370.9" cy="775.1" r="4.8"/><circle cx="1384.8" cy="778.9" r="4.8"/><circle cx="1412.6" cy="670.1" r="4.8"/><circle cx="1426.5" cy="776.7" r="4.8"/><circle cx="1440.4" cy="777.1" r="4.8"/><circle cx="1454.3" cy="736.3" r="4.8"/><circle cx="1468.2" cy="766.5" r="4.8"/><circle cx="1482.2" cy="817.7" r="4.8"/><circle cx="1496.1" cy="794.6" r="4.8"/><circle cx="1510" cy="772.8" r="4.8"/><circle cx="1523.9" cy="755.6" r="4.8"/><circle cx="1537.8" cy="792.3" r="4.8"/><circle cx="1551.7" cy="758.5" r="4.8"/><circle cx="1565.6" cy="760.8" r="4.8"/><circle cx="1579.5" cy="780.3" r="4.8"/><circle cx="1593.4" cy="724.9" r="4.8"/><circle cx="1607.3" cy="775.1" r="4.8"/><circle cx="1621.2" cy="761.5" r="4.8"/><circle cx="1635.1" cy="729" r="4.8"/><circle cx="1649" cy="709.1" r="4.8"/><circle cx="1662.9" cy="783.2" r="4.8"/><circle cx="1676.8" cy="768.5" r="4.8"/><circle cx="1690.7" cy="765.5" r="4.8"/><circle cx="1704.6" cy="773.3" r="4.8"/><circle cx="1718.5" cy="797.1" r="4.8"/><circle cx="1732.4" cy="771.9" r="4.8"/></g>
<g fill="none" stroke="#4DBBD5" stroke-opacity="0.44999999999999996" stroke-width="1.2"><circle cx="1078.9" cy="896.9" r="4.2"/><circle cx="1092.8" cy="855.6" r="4.2"/><circle cx="1106.7" cy="826.6" r="4.2"/><circle cx="1120.6" cy="844.5" r="4.2"/><circle cx="1134.5" cy="781" r="4.2"/><circle cx="1148.4" cy="834.3" r="4.2"/><circle cx="1162.3" cy="800.9" r="4.2"/><circle cx="1176.2" cy="837.4" r="4.2"/><circle cx="1190.1" cy="844.3" r="4.2"/><circle cx="1204" cy="811.6" r="4.2"/><circle cx="1218" cy="829.3" r="4.2"/><circle cx="1231.9" cy="834.5" r="4.2"/><circle cx="1245.8" cy="822.7" r="4.2"/><circle cx="1259.7" cy="854.7" r="4.2"/><circle cx="1273.6" cy="825" r="4.2"/><circle cx="1287.5" cy="839" r="4.2"/><circle cx="1301.4" cy="831.3" r="4.2"/><circle cx="1315.3" cy="824.3" r="4.2"/><circle cx="1329.2" cy="703.6" r="4.2"/><circle cx="1343.1" cy="793.9" r="4.2"/><circle cx="1357" cy="794.8" r="4.2"/><circle cx="1370.9" cy="775.1" r="4.2"/><circle cx="1384.8" cy="778.9" r="4.2"/><circle cx="1412.6" cy="670.1" r="4.2"/><circle cx="1426.5" cy="776.7" r="4.2"/><circle cx="1440.4" cy="777.1" r="4.2"/><circle cx="1454.3" cy="736.3" r="4.2"/><circle cx="1468.2" cy="766.5" r="4.2"/><circle cx="1482.2" cy="817.7" r="4.2"/><circle cx="1496.1" cy="794.6" r="4.2"/><circle cx="1510" cy="772.8" r="4.2"/><circle cx="1523.9" cy="755.6" r="4.2"/><circle cx="1537.8" cy="792.3" r="4.2"/><circle cx="1551.7" cy="758.5" r="4.2"/><circle cx="1565.6" cy="760.8" r="4.2"/><circle cx="1579.5" cy="780.3" r="4.2"/><circle cx="1593.4" cy="724.9" r="4.2"/><circle cx="1607.3" cy="775.1" r="4.2"/><circle cx="1621.2" cy="761.5" r="4.2"/><circle cx="1635.1" cy="729" r="4.2"/><circle cx="1649" cy="709.1" r="4.2"/><circle cx="1662.9" cy="783.2" r="4.2"/><circle cx="1676.8" cy="768.5" r="4.2"/><circle cx="1690.7" cy="765.5" r="4.2"/><circle cx="1704.6" cy="773.3" r="4.2"/><circle cx="1718.5" cy="797.1" r="4.2"/><circle cx="1732.4" cy="771.9" r="4.2"/></g>
<polyline points="1078.9,891.4 1087.2,871.9 1095.5,854.5 1103.7,839 1112,827 1120.3,818.8 1128.5,814.1 1136.8,811.1 1145.1,808.6 1153.4,812.3 1161.6,820.4 1169.9,827 1178.2,830.9 1186.4,831.3 1194.7,829.7 1203,828.6 1211.3,826.6 1219.5,824.3 1227.8,828.1 1236.1,832 1244.4,835.9 1252.6,836.5 1260.9,836.8 1269.2,837.9 1277.4,839.5 1285.7,842.4 1294,835.9 1302.3,824.7 1310.5,803 1318.8,784.9 1327.1,771.2 1335.4,767.4 1343.6,767.8 1351.9,775.8 1360.2,780.1 1368.4,782.8 1376.7,772.4 1385,759.2 1393.3,749.7 1401.5,741.1 1409.8,734.9 1418.1,734.5 1426.4,737.2 1434.6,744.5 1442.9,753.8 1451.2,765.8 1459.4,773.7 1467.7,779.8 1476,788.5 1484.3,794.4 1492.5,795 1500.8,790.5 1509.1,780.5 1517.4,773.7 1525.6,770.1 1533.9,768.7 1542.2,769.2 1550.4,771.7 1558.7,767.8 1567,762.6 1575.3,758.7 1583.5,757 1591.8,757.8 1600.1,758 1608.4,756.4 1616.6,749.2 1624.9,742.9 1633.2,736.5 1641.4,735.6 1649.7,737.2 1658,748.1 1666.3,758.3 1674.5,767.1 1682.8,773.5 1691.1,778 1699.3,780.5 1707.6,781.9 1715.9,781.9 1724.2,781 1732.4,778.5" fill="none" stroke="#4DBBD5" stroke-width="4.9" stroke-opacity="1.0" stroke-linejoin="round" stroke-linecap="butt"/>
<polyline points="1078.9,896.9 1092.8,837.9 1106.7,844 1120.6,852.2 1134.5,795.3 1148.4,847.4 1162.3,826.8 1176.2,842.2 1190.1,846.5 1204,823.2 1218,843.8 1231.9,862.8 1245.8,865.1 1259.7,881.2 1273.6,867.2 1287.5,869 1301.4,875.8 1315.3,876.2 1329.2,834.5 1343.1,861.5 1357,867.8 1370.9,859 1384.8,859.4 1412.6,807.3 1426.5,849.9 1440.4,832.7 1454.3,831.8 1468.2,842.2 1482.2,795.7 1496.1,737.7 1510,680.3 1523.9,670.1 1537.8,753.8 1551.7,793.9 1565.6,756 1579.5,705.2 1593.4,742.6 1607.3,769.9 1621.2,763.3 1635.1,762.4 1649,771.2 1662.9,819.3 1676.8,802.5 1690.7,808.6 1704.6,823.2 1718.5,829.3 1732.4,885.8" fill="none" stroke="#384E7C" stroke-width="1.8" stroke-opacity="0.45" stroke-linejoin="round"/>
<g fill="#3C5488" fill-opacity="0.6"><circle cx="1078.9" cy="896.9" r="4.8"/><circle cx="1092.8" cy="837.9" r="4.8"/><circle cx="1106.7" cy="844" r="4.8"/><circle cx="1120.6" cy="852.2" r="4.8"/><circle cx="1134.5" cy="795.3" r="4.8"/><circle cx="1148.4" cy="847.4" r="4.8"/><circle cx="1162.3" cy="826.8" r="4.8"/><circle cx="1176.2" cy="842.2" r="4.8"/><circle cx="1190.1" cy="846.5" r="4.8"/><circle cx="1204" cy="823.2" r="4.8"/><circle cx="1218" cy="843.8" r="4.8"/><circle cx="1231.9" cy="862.8" r="4.8"/><circle cx="1245.8" cy="865.1" r="4.8"/><circle cx="1259.7" cy="881.2" r="4.8"/><circle cx="1273.6" cy="867.2" r="4.8"/><circle cx="1287.5" cy="869" r="4.8"/><circle cx="1301.4" cy="875.8" r="4.8"/><circle cx="1315.3" cy="876.2" r="4.8"/><circle cx="1329.2" cy="834.5" r="4.8"/><circle cx="1343.1" cy="861.5" r="4.8"/><circle cx="1357" cy="867.8" r="4.8"/><circle cx="1370.9" cy="859" r="4.8"/><circle cx="1384.8" cy="859.4" r="4.8"/><circle cx="1412.6" cy="807.3" r="4.8"/><circle cx="1426.5" cy="849.9" r="4.8"/><circle cx="1440.4" cy="832.7" r="4.8"/><circle cx="1454.3" cy="831.8" r="4.8"/><circle cx="1468.2" cy="842.2" r="4.8"/><circle cx="1482.2" cy="795.7" r="4.8"/><circle cx="1496.1" cy="737.7" r="4.8"/><circle cx="1510" cy="680.3" r="4.8"/><circle cx="1523.9" cy="670.1" r="4.8"/><circle cx="1537.8" cy="753.8" r="4.8"/><circle cx="1551.7" cy="793.9" r="4.8"/><circle cx="1565.6" cy="756" r="4.8"/><circle cx="1579.5" cy="705.2" r="4.8"/><circle cx="1593.4" cy="742.6" r="4.8"/><circle cx="1607.3" cy="769.9" r="4.8"/><circle cx="1621.2" cy="763.3" r="4.8"/><circle cx="1635.1" cy="762.4" r="4.8"/><circle cx="1649" cy="771.2" r="4.8"/><circle cx="1662.9" cy="819.3" r="4.8"/><circle cx="1676.8" cy="802.5" r="4.8"/><circle cx="1690.7" cy="808.6" r="4.8"/><circle cx="1704.6" cy="823.2" r="4.8"/><circle cx="1718.5" cy="829.3" r="4.8"/><circle cx="1732.4" cy="885.8" r="4.8"/></g>
<g fill="none" stroke="#3C5488" stroke-opacity="0.44999999999999996" stroke-width="1.2"><circle cx="1078.9" cy="896.9" r="4.2"/><circle cx="1092.8" cy="837.9" r="4.2"/><circle cx="1106.7" cy="844" r="4.2"/><circle cx="1120.6" cy="852.2" r="4.2"/><circle cx="1134.5" cy="795.3" r="4.2"/><circle cx="1148.4" cy="847.4" r="4.2"/><circle cx="1162.3" cy="826.8" r="4.2"/><circle cx="1176.2" cy="842.2" r="4.2"/><circle cx="1190.1" cy="846.5" r="4.2"/><circle cx="1204" cy="823.2" r="4.2"/><circle cx="1218" cy="843.8" r="4.2"/><circle cx="1231.9" cy="862.8" r="4.2"/><circle cx="1245.8" cy="865.1" r="4.2"/><circle cx="1259.7" cy="881.2" r="4.2"/><circle cx="1273.6" cy="867.2" r="4.2"/><circle cx="1287.5" cy="869" r="4.2"/><circle cx="1301.4" cy="875.8" r="4.2"/><circle cx="1315.3" cy="876.2" r="4.2"/><circle cx="1329.2" cy="834.5" r="4.2"/><circle cx="1343.1" cy="861.5" r="4.2"/><circle cx="1357" cy="867.8" r="4.2"/><circle cx="1370.9" cy="859" r="4.2"/><circle cx="1384.8" cy="859.4" r="4.2"/><circle cx="1412.6" cy="807.3" r="4.2"/><circle cx="1426.5" cy="849.9" r="4.2"/><circle cx="1440.4" cy="832.7" r="4.2"/><circle cx="1454.3" cy="831.8" r="4.2"/><circle cx="1468.2" cy="842.2" r="4.2"/><circle cx="1482.2" cy="795.7" r="4.2"/><circle cx="1496.1" cy="737.7" r="4.2"/><circle cx="1510" cy="680.3" r="4.2"/><circle cx="1523.9" cy="670.1" r="4.2"/><circle cx="1537.8" cy="753.8" r="4.2"/><circle cx="1551.7" cy="793.9" r="4.2"/><circle cx="1565.6" cy="756" r="4.2"/><circle cx="1579.5" cy="705.2" r="4.2"/><circle cx="1593.4" cy="742.6" r="4.2"/><circle cx="1607.3" cy="769.9" r="4.2"/><circle cx="1621.2" cy="763.3" r="4.2"/><circle cx="1635.1" cy="762.4" r="4.2"/><circle cx="1649" cy="771.2" r="4.2"/><circle cx="1662.9" cy="819.3" r="4.2"/><circle cx="1676.8" cy="802.5" r="4.2"/><circle cx="1690.7" cy="808.6" r="4.2"/><circle cx="1704.6" cy="823.2" r="4.2"/><circle cx="1718.5" cy="829.3" r="4.2"/><circle cx="1732.4" cy="885.8" r="4.2"/></g>
<polyline points="1078.9,886.7 1087.2,869.7 1095.5,855.6 1103.7,844.1 1112,834.5 1120.3,829.7 1128.5,828.1 1136.8,827 1145.1,825.4 1153.4,829.3 1161.6,834.7 1169.9,838.6 1178.2,840.2 1186.4,836.3 1194.7,835.9 1203,836.8 1211.3,839.5 1219.5,843.3 1227.8,852.2 1236.1,860.8 1244.4,868.5 1252.6,871.2 1260.9,872.1 1269.2,872.4 1277.4,873.5 1285.7,874.6 1294,873.5 1302.3,871.2 1310.5,865.5 1318.8,860.5 1327.1,856.6 1335.4,856 1343.6,857 1351.9,859 1360.2,860.4 1368.4,861 1376.7,857 1385,851.1 1393.3,845.6 1401.5,838.4 1409.8,832.5 1418.1,831.8 1426.4,832.5 1434.6,836.3 1442.9,839.7 1451.2,843.8 1459.4,839 1467.7,828.4 1476,809.8 1484.3,785.7 1492.5,747.2 1500.8,719.3 1509.1,690.5 1517.4,690.5 1525.6,699.8 1533.9,730.4 1542.2,749.9 1550.4,767.1 1558.7,763.2 1567,750.9 1575.3,739 1583.5,734.2 1591.8,736.5 1600.1,745.6 1608.4,754.8 1616.6,761.5 1624.9,765.3 1633.2,766.5 1641.4,773.5 1649.7,781.9 1658,791.4 1666.3,801.2 1674.5,808.2 1682.8,811.4 1691.1,813.9 1699.3,822.3 1707.6,832.5 1715.9,843.8 1724.2,857.9 1732.4,874" fill="none" stroke="#3C5488" stroke-width="4.9" stroke-opacity="1.0" stroke-linejoin="round" stroke-linecap="butt"/>
<rect x="1370.9" y="598.3" width="292" height="322.9" fill="#ADD8E6" fill-opacity="0.15"/>
<text class="tk" text-anchor="end" x="1033.9" y="902.8">0</text>
<text class="tk" text-anchor="end" x="1033.9" y="828.9">2500</text>
<text class="tk" text-anchor="end" x="1033.9" y="755.1">5000</text>
<text class="tk" text-anchor="end" x="1033.9" y="681.2">7500</text>
<text class="tk" text-anchor="end" x="1033.9" y="607.4">10000</text>
<text class="tk" text-anchor="middle" x="1065" y="943.2">0</text>
<text class="tk" text-anchor="middle" x="1204" y="943.2">10</text>
<text class="tk" text-anchor="middle" x="1343.1" y="943.2">20</text>
<text class="tk" text-anchor="middle" x="1482.2" y="943.2">30</text>
<text class="tk" text-anchor="middle" x="1621.2" y="943.2">40</text>
<text class="tk" text-anchor="middle" x="1760.2" y="943.2">50</text>
<text class="ax" text-anchor="middle" x="1433.5" y="967.2">Week</text>
<text class="tk" x="1833" y="902.8">0</text>
<text class="tk" x="1833" y="794.9">500</text>
<text class="tk" x="1833" y="687">1000</text>
<text class="ax" text-anchor="middle" transform="translate(977.1,759.8) rotate(-90)">Dengue Cases</text>
<text class="ax" text-anchor="middle" transform="translate(1879.5,759.8) rotate(90)">Typhoid / Leptospirosis Cases</text>
<path d="M88.4 1301.3H868.5M88.4 1217H868.5M88.4 1132.6H868.5M88.4 1048.3H868.5M179.5 1024.3V1347.2M318.6 1024.3V1347.2M457.6 1024.3V1347.2M596.7 1024.3V1347.2M735.7 1024.3V1347.2" stroke="#EBEBEB" stroke-width="1" fill="none"/>
<path d="M88.4 1343.5H868.5M88.4 1259.1H868.5M88.4 1174.8H868.5M88.4 1090.4H868.5M110 1024.3V1347.2M249 1024.3V1347.2M388.1 1024.3V1347.2M527.1 1024.3V1347.2M666.2 1024.3V1347.2M805.2 1024.3V1347.2" stroke="#EBEBEB" stroke-width="2" fill="none"/>
<rect x="415.9" y="1024.3" width="292" height="322.9" fill="#ADD8E6" fill-opacity="0.06"/>
<polyline points="123.9,1332.5 137.8,1316 151.7,1309.9 165.6,1226.9 179.5,1300 193.4,1279.9 207.3,1316.5 221.2,1216.5 235.1,1265.9 249,1258.5 263,1250 276.9,1274 290.8,1272 304.7,1105.4 318.6,1262.5 332.5,1290.5 346.4,1207 360.3,1266.4 374.2,1224.9 402,1243.4 415.9,1248.5 429.8,1281.4 443.7,1275.5 457.6,1234 471.5,1212.4 485.4,1212.9 499.3,1208 513.2,1240.4 527.1,1218.5 541.1,1153.9 555,1210.4 568.9,1226.4 582.8,1217 596.7,1228.9 610.6,1267.9 624.5,1292.5 638.4,1222.5 652.3,1226.9 666.2,1253.9 680.1,1192.5 694,1170.9 707.9,1039 721.8,1286 735.7,1251.4 749.6,1209.9 763.5,1280.4 777.4,1236.5 791.3,1206 805.2,1251 819.2,1211.9 833.1,1237.9" fill="none" stroke="#08ECF3" stroke-width="2.1" stroke-opacity="0.95" stroke-linejoin="round"/>
<g fill="#00F4FB"><circle cx="123.9" cy="1332.5" r="4.2"/><circle cx="137.8" cy="1316" r="4.2"/><circle cx="151.7" cy="1309.9" r="4.2"/><circle cx="165.6" cy="1226.9" r="4.2"/><circle cx="179.5" cy="1300" r="4.2"/><circle cx="193.4" cy="1279.9" r="4.2"/><circle cx="207.3" cy="1316.5" r="4.2"/><circle cx="221.2" cy="1216.5" r="4.2"/><circle cx="235.1" cy="1265.9" r="4.2"/><circle cx="249" cy="1258.5" r="4.2"/><circle cx="263" cy="1250" r="4.2"/><circle cx="276.9" cy="1274" r="4.2"/><circle cx="290.8" cy="1272" r="4.2"/><circle cx="304.7" cy="1105.4" r="4.2"/><circle cx="318.6" cy="1262.5" r="4.2"/><circle cx="332.5" cy="1290.5" r="4.2"/><circle cx="346.4" cy="1207" r="4.2"/><circle cx="360.3" cy="1266.4" r="4.2"/><circle cx="374.2" cy="1224.9" r="4.2"/><circle cx="402" cy="1243.4" r="4.2"/><circle cx="415.9" cy="1248.5" r="4.2"/><circle cx="429.8" cy="1281.4" r="4.2"/><circle cx="443.7" cy="1275.5" r="4.2"/><circle cx="457.6" cy="1234" r="4.2"/><circle cx="471.5" cy="1212.4" r="4.2"/><circle cx="485.4" cy="1212.9" r="4.2"/><circle cx="499.3" cy="1208" r="4.2"/><circle cx="513.2" cy="1240.4" r="4.2"/><circle cx="527.1" cy="1218.5" r="4.2"/><circle cx="541.1" cy="1153.9" r="4.2"/><circle cx="555" cy="1210.4" r="4.2"/><circle cx="568.9" cy="1226.4" r="4.2"/><circle cx="582.8" cy="1217" r="4.2"/><circle cx="596.7" cy="1228.9" r="4.2"/><circle cx="610.6" cy="1267.9" r="4.2"/><circle cx="624.5" cy="1292.5" r="4.2"/><circle cx="638.4" cy="1222.5" r="4.2"/><circle cx="652.3" cy="1226.9" r="4.2"/><circle cx="666.2" cy="1253.9" r="4.2"/><circle cx="680.1" cy="1192.5" r="4.2"/><circle cx="694" cy="1170.9" r="4.2"/><circle cx="707.9" cy="1039" r="4.2"/><circle cx="721.8" cy="1286" r="4.2"/><circle cx="735.7" cy="1251.4" r="4.2"/><circle cx="749.6" cy="1209.9" r="4.2"/><circle cx="763.5" cy="1280.4" r="4.2"/><circle cx="777.4" cy="1236.5" r="4.2"/><circle cx="791.3" cy="1206" r="4.2"/><circle cx="805.2" cy="1251" r="4.2"/><circle cx="819.2" cy="1211.9" r="4.2"/><circle cx="833.1" cy="1237.9" r="4.2"/></g>
<rect x="415.9" y="1024.3" width="292" height="322.9" fill="#ADD8E6" fill-opacity="0.15"/>
<text class="tk" text-anchor="end" x="78.9" y="1349.4">0</text>
<text class="tk" text-anchor="end" x="78.9" y="1265">50</text>
<text class="tk" text-anchor="end" x="78.9" y="1180.7">100</text>
<text class="tk" text-anchor="end" x="78.9" y="1096.3">150</text>
<text class="tk" text-anchor="middle" x="110" y="1369.2">0</text>
<text class="tk" text-anchor="middle" x="249" y="1369.2">10</text>
<text class="tk" text-anchor="middle" x="388.1" y="1369.2">20</text>
<text class="tk" text-anchor="middle" x="527.1" y="1369.2">30</text>
<text class="tk" text-anchor="middle" x="666.2" y="1369.2">40</text>
<text class="tk" text-anchor="middle" x="805.2" y="1369.2">50</text>
<text class="ax" text-anchor="middle" x="478.5" y="1393.2">Week</text>
<text class="ax" text-anchor="middle" transform="translate(40.6,1185.8) rotate(-90)">Rainfall (mm)</text>
<path d="M1043.4 1314.9H1823.5M1043.4 1233.3H1823.5M1043.4 1151.8H1823.5M1043.4 1070.2H1823.5M1134.5 1024.3V1347.2M1273.6 1024.3V1347.2M1412.6 1024.3V1347.2M1551.7 1024.3V1347.2M1690.7 1024.3V1347.2" stroke="#EBEBEB" stroke-width="1" fill="none"/>
<path d="M1043.4 1274.1H1823.5M1043.4 1192.5H1823.5M1043.4 1111H1823.5M1043.4 1029.5H1823.5M1065 1024.3V1347.2M1204 1024.3V1347.2M1343.1 1024.3V1347.2M1482.2 1024.3V1347.2M1621.2 1024.3V1347.2M1760.2 1024.3V1347.2" stroke="#EBEBEB" stroke-width="2" fill="none"/>
<rect x="1370.9" y="1024.3" width="292" height="322.9" fill="#ADD8E6" fill-opacity="0.06"/>
<polyline points="1078.9,1096.9 1092.8,1095.5 1106.7,1217 1120.6,1140.1 1134.5,1281.7 1148.4,1270.6 1162.3,1083 1176.2,1266.5 1190.1,1262.9 1204,1325.7 1218,1260.5 1231.9,1332.5 1245.8,1249.6 1259.7,1317 1273.6,1224.6 1287.5,1287.7 1301.4,1273 1315.3,1187.1 1329.2,1283.1 1343.1,1237.7 1357,1229 1370.9,1165.6 1384.8,1198.5 1412.6,1188.5 1426.5,1127.6 1440.4,1220.5 1454.3,1077 1468.2,1140.6 1482.2,1039 1496.1,1265.7 1510,1245.5 1523.9,1184.9 1537.8,1083 1551.7,1120 1565.6,1203.4 1579.5,1154.5 1593.4,1151 1607.3,1189 1621.2,1231.7 1635.1,1187.1 1649,1206.4 1662.9,1239.6 1676.8,1199.1 1690.7,1250.4 1704.6,1184.7 1718.5,1219.5 1732.4,1177.6 1746.3,1267 1760.2,1279.5 1774.2,1197.4 1788.1,1271.1" fill="none" stroke="#08ECF3" stroke-width="2.1" stroke-opacity="0.95" stroke-linejoin="round"/>
<g fill="#00F4FB"><circle cx="1078.9" cy="1096.9" r="4.2"/><circle cx="1092.8" cy="1095.5" r="4.2"/><circle cx="1106.7" cy="1217" r="4.2"/><circle cx="1120.6" cy="1140.1" r="4.2"/><circle cx="1134.5" cy="1281.7" r="4.2"/><circle cx="1148.4" cy="1270.6" r="4.2"/><circle cx="1162.3" cy="1083" r="4.2"/><circle cx="1176.2" cy="1266.5" r="4.2"/><circle cx="1190.1" cy="1262.9" r="4.2"/><circle cx="1204" cy="1325.7" r="4.2"/><circle cx="1218" cy="1260.5" r="4.2"/><circle cx="1231.9" cy="1332.5" r="4.2"/><circle cx="1245.8" cy="1249.6" r="4.2"/><circle cx="1259.7" cy="1317" r="4.2"/><circle cx="1273.6" cy="1224.6" r="4.2"/><circle cx="1287.5" cy="1287.7" r="4.2"/><circle cx="1301.4" cy="1273" r="4.2"/><circle cx="1315.3" cy="1187.1" r="4.2"/><circle cx="1329.2" cy="1283.1" r="4.2"/><circle cx="1343.1" cy="1237.7" r="4.2"/><circle cx="1357" cy="1229" r="4.2"/><circle cx="1370.9" cy="1165.6" r="4.2"/><circle cx="1384.8" cy="1198.5" r="4.2"/><circle cx="1412.6" cy="1188.5" r="4.2"/><circle cx="1426.5" cy="1127.6" r="4.2"/><circle cx="1440.4" cy="1220.5" r="4.2"/><circle cx="1454.3" cy="1077" r="4.2"/><circle cx="1468.2" cy="1140.6" r="4.2"/><circle cx="1482.2" cy="1039" r="4.2"/><circle cx="1496.1" cy="1265.7" r="4.2"/><circle cx="1510" cy="1245.5" r="4.2"/><circle cx="1523.9" cy="1184.9" r="4.2"/><circle cx="1537.8" cy="1083" r="4.2"/><circle cx="1551.7" cy="1120" r="4.2"/><circle cx="1565.6" cy="1203.4" r="4.2"/><circle cx="1579.5" cy="1154.5" r="4.2"/><circle cx="1593.4" cy="1151" r="4.2"/><circle cx="1607.3" cy="1189" r="4.2"/><circle cx="1621.2" cy="1231.7" r="4.2"/><circle cx="1635.1" cy="1187.1" r="4.2"/><circle cx="1649" cy="1206.4" r="4.2"/><circle cx="1662.9" cy="1239.6" r="4.2"/><circle cx="1676.8" cy="1199.1" r="4.2"/><circle cx="1690.7" cy="1250.4" r="4.2"/><circle cx="1704.6" cy="1184.7" r="4.2"/><circle cx="1718.5" cy="1219.5" r="4.2"/><circle cx="1732.4" cy="1177.6" r="4.2"/><circle cx="1746.3" cy="1267" r="4.2"/><circle cx="1760.2" cy="1279.5" r="4.2"/><circle cx="1774.2" cy="1197.4" r="4.2"/><circle cx="1788.1" cy="1271.1" r="4.2"/></g>
<rect x="1370.9" y="1024.3" width="292" height="322.9" fill="#ADD8E6" fill-opacity="0.15"/>
<text class="tk" text-anchor="end" x="1033.9" y="1280">30</text>
<text class="tk" text-anchor="end" x="1033.9" y="1198.4">60</text>
<text class="tk" text-anchor="end" x="1033.9" y="1116.9">90</text>
<text class="tk" text-anchor="end" x="1033.9" y="1035.4">120</text>
<text class="tk" text-anchor="middle" x="1065" y="1369.2">0</text>
<text class="tk" text-anchor="middle" x="1204" y="1369.2">10</text>
<text class="tk" text-anchor="middle" x="1343.1" y="1369.2">20</text>
<text class="tk" text-anchor="middle" x="1482.2" y="1369.2">30</text>
<text class="tk" text-anchor="middle" x="1621.2" y="1369.2">40</text>
<text class="tk" text-anchor="middle" x="1760.2" y="1369.2">50</text>
<text class="ax" text-anchor="middle" x="1433.5" y="1393.2">Week</text>
<text class="ax" text-anchor="middle" transform="translate(995.6,1185.8) rotate(-90)">Rainfall (mm)</text>
<text class="ttl" text-anchor="middle" x="951" y="29">Weekly Disease Trends (2022 vs 2023)</text>
<text class="col" text-anchor="middle" x="473.5" y="88.5">2022</text>
<text class="col" text-anchor="middle" x="1428.5" y="88.5">2023</text>
<text class="pt" x="91.5" y="154.6">Normalized Weekly Cases</text>
<text class="pt" x="91.5" y="580.6">Absolute Weekly Cases</text>
<text class="pt" x="91.5" y="1006.6">Weekly Rainfall</text>
<circle cx="782.1" cy="1484.8" r="4.2" fill="#E64B35" fill-opacity="0.6" stroke="#E64B35" stroke-opacity="0.6" stroke-width="1.3"/>
<path d="M769.1 1484.8H795.1" stroke="#E64B35" stroke-width="1.6" stroke-opacity="0.4"/>
<path d="M769.1 1484.8H795.1" stroke="#E64B35" stroke-width="4.9"/>
<text class="lg" x="809" y="1490.8">Dengue</text>
<circle cx="896" cy="1484.8" r="4.2" fill="#3C5488" fill-opacity="0.6" stroke="#3C5488" stroke-opacity="0.6" stroke-width="1.3"/>
<path d="M883 1484.8H909" stroke="#3C5488" stroke-width="1.6" stroke-opacity="0.4"/>
<path d="M883 1484.8H909" stroke="#3C5488" stroke-width="4.9"/>
<text class="lg" x="923" y="1490.8">Leptospirosis</text>
<circle cx="1050.4" cy="1484.8" r="4.2" fill="#4DBBD5" fill-opacity="0.6" stroke="#4DBBD5" stroke-opacity="0.6" stroke-width="1.3"/>
<path d="M1037.4 1484.8H1063.4" stroke="#4DBBD5" stroke-width="1.6" stroke-opacity="0.4"/>
<path d="M1037.4 1484.8H1063.4" stroke="#4DBBD5" stroke-width="4.9"/>
<text class="lg" x="1078" y="1490.8">Typhoid</text>
</svg>
</body></html>
